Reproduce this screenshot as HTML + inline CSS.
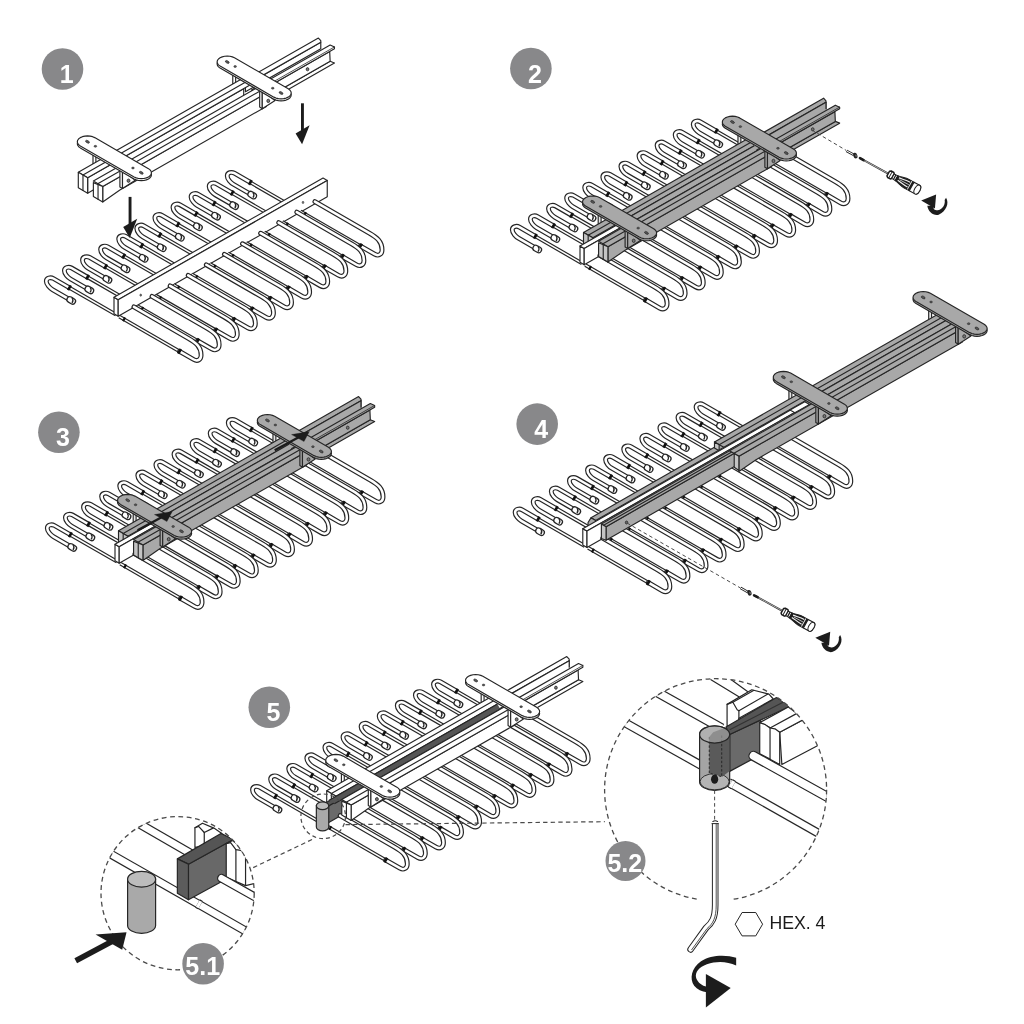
<!DOCTYPE html>
<html><head><meta charset="utf-8"><title>Assembly</title>
<style>
html,body{margin:0;padding:0;background:#fff;}
body{width:1024px;height:1024px;overflow:hidden;font-family:"Liberation Sans",sans-serif;}
svg{display:block;filter:blur(0.4px);}
text{font-family:"Liberation Sans",sans-serif;}
</style></head><body>
<svg width="1024" height="1024" viewBox="0 0 1024 1024">
<rect width="1024" height="1024" fill="#fff"/>
<defs><g id="rb"><path d="M297.03,209.4 L250.35,182.45" fill="none" stroke="#262626" stroke-width="3.85" stroke-linecap="butt" stroke-linejoin="round"/><path d="M297.03,209.4 L250.35,182.45" fill="none" stroke="#fff" stroke-width="1.5" stroke-linecap="butt" stroke-linejoin="round"/><path d="M250.35,182.45 L234.33,173.2 C231.56,171.6 227.25,172.5 227.25,175.9 C227.25,179.1 230.78,182.75 233.38,184.25 L249.4,193.5" fill="none" stroke="#262626" stroke-width="4.85" stroke-linecap="butt" stroke-linejoin="round"/><path d="M250.35,182.45 L234.33,173.2 C231.56,171.6 227.25,172.5 227.25,175.9 C227.25,179.1 230.78,182.75 233.38,184.25 L249.4,193.5" fill="none" stroke="#fff" stroke-width="2.5" stroke-linecap="butt" stroke-linejoin="round"/><path d="M249.18,181.77 L251.52,183.12" stroke="#111" stroke-width="5.35" fill="none"/><path d="M250.79,194.3 L253.56,195.9" fill="none" stroke="#262626" stroke-width="7.1" stroke-linecap="round" stroke-linejoin="round"/><path d="M250.79,194.3 L253.56,195.9" fill="none" stroke="#fff" stroke-width="4.6" stroke-linecap="round" stroke-linejoin="round"/><path d="M252.9,192.3 q2.0,2.4 0.1,5.4" fill="none" stroke="#262626" stroke-width="1.3"/><path d="M278.94,219.93 L232.26,192.98" fill="none" stroke="#262626" stroke-width="3.85" stroke-linecap="butt" stroke-linejoin="round"/><path d="M278.94,219.93 L232.26,192.98" fill="none" stroke="#fff" stroke-width="1.5" stroke-linecap="butt" stroke-linejoin="round"/><path d="M232.26,192.98 L216.24,183.73 C213.47,182.13 209.16,183.03 209.16,186.43 C209.16,189.63 212.69,193.28 215.28,194.78 L231.31,204.03" fill="none" stroke="#262626" stroke-width="4.85" stroke-linecap="butt" stroke-linejoin="round"/><path d="M232.26,192.98 L216.24,183.73 C213.47,182.13 209.16,183.03 209.16,186.43 C209.16,189.63 212.69,193.28 215.28,194.78 L231.31,204.03" fill="none" stroke="#fff" stroke-width="2.5" stroke-linecap="butt" stroke-linejoin="round"/><path d="M231.09,192.31 L233.43,193.66" stroke="#111" stroke-width="5.35" fill="none"/><path d="M232.69,204.83 L235.46,206.43" fill="none" stroke="#262626" stroke-width="7.1" stroke-linecap="round" stroke-linejoin="round"/><path d="M232.69,204.83 L235.46,206.43" fill="none" stroke="#fff" stroke-width="4.6" stroke-linecap="round" stroke-linejoin="round"/><path d="M234.8,202.83 q2.0,2.4 0.1,5.4" fill="none" stroke="#262626" stroke-width="1.3"/><path d="M260.84,230.46 L214.16,203.51" fill="none" stroke="#262626" stroke-width="3.85" stroke-linecap="butt" stroke-linejoin="round"/><path d="M260.84,230.46 L214.16,203.51" fill="none" stroke="#fff" stroke-width="1.5" stroke-linecap="butt" stroke-linejoin="round"/><path d="M214.16,203.51 L198.14,194.26 C195.37,192.66 191.06,193.56 191.06,196.96 C191.06,200.16 194.59,203.81 197.19,205.31 L213.21,214.56" fill="none" stroke="#262626" stroke-width="4.85" stroke-linecap="butt" stroke-linejoin="round"/><path d="M214.16,203.51 L198.14,194.26 C195.37,192.66 191.06,193.56 191.06,196.96 C191.06,200.16 194.59,203.81 197.19,205.31 L213.21,214.56" fill="none" stroke="#fff" stroke-width="2.5" stroke-linecap="butt" stroke-linejoin="round"/><path d="M212.99,202.83 L215.33,204.19" stroke="#111" stroke-width="5.35" fill="none"/><path d="M214.6,215.36 L217.37,216.96" fill="none" stroke="#262626" stroke-width="7.1" stroke-linecap="round" stroke-linejoin="round"/><path d="M214.6,215.36 L217.37,216.96" fill="none" stroke="#fff" stroke-width="4.6" stroke-linecap="round" stroke-linejoin="round"/><path d="M216.71,213.36 q2.0,2.4 0.1,5.4" fill="none" stroke="#262626" stroke-width="1.3"/><path d="M242.75,240.99 L196.07,214.04" fill="none" stroke="#262626" stroke-width="3.85" stroke-linecap="butt" stroke-linejoin="round"/><path d="M242.75,240.99 L196.07,214.04" fill="none" stroke="#fff" stroke-width="1.5" stroke-linecap="butt" stroke-linejoin="round"/><path d="M196.07,214.04 L180.05,204.79 C177.28,203.19 172.97,204.09 172.97,207.49 C172.97,210.69 176.5,214.34 179.09,215.84 L195.12,225.09" fill="none" stroke="#262626" stroke-width="4.85" stroke-linecap="butt" stroke-linejoin="round"/><path d="M196.07,214.04 L180.05,204.79 C177.28,203.19 172.97,204.09 172.97,207.49 C172.97,210.69 176.5,214.34 179.09,215.84 L195.12,225.09" fill="none" stroke="#fff" stroke-width="2.5" stroke-linecap="butt" stroke-linejoin="round"/><path d="M194.9,213.37 L197.24,214.72" stroke="#111" stroke-width="5.35" fill="none"/><path d="M196.5,225.89 L199.27,227.49" fill="none" stroke="#262626" stroke-width="7.1" stroke-linecap="round" stroke-linejoin="round"/><path d="M196.5,225.89 L199.27,227.49" fill="none" stroke="#fff" stroke-width="4.6" stroke-linecap="round" stroke-linejoin="round"/><path d="M198.61,223.89 q2.0,2.4 0.1,5.4" fill="none" stroke="#262626" stroke-width="1.3"/><path d="M224.65,251.52 L177.97,224.57" fill="none" stroke="#262626" stroke-width="3.85" stroke-linecap="butt" stroke-linejoin="round"/><path d="M224.65,251.52 L177.97,224.57" fill="none" stroke="#fff" stroke-width="1.5" stroke-linecap="butt" stroke-linejoin="round"/><path d="M177.97,224.57 L161.95,215.32 C159.18,213.72 154.87,214.62 154.87,218.02 C154.87,221.22 158.4,224.87 161,226.37 L177.02,235.62" fill="none" stroke="#262626" stroke-width="4.85" stroke-linecap="butt" stroke-linejoin="round"/><path d="M177.97,224.57 L161.95,215.32 C159.18,213.72 154.87,214.62 154.87,218.02 C154.87,221.22 158.4,224.87 161,226.37 L177.02,235.62" fill="none" stroke="#fff" stroke-width="2.5" stroke-linecap="butt" stroke-linejoin="round"/><path d="M176.8,223.9 L179.14,225.25" stroke="#111" stroke-width="5.35" fill="none"/><path d="M178.41,236.42 L181.18,238.02" fill="none" stroke="#262626" stroke-width="7.1" stroke-linecap="round" stroke-linejoin="round"/><path d="M178.41,236.42 L181.18,238.02" fill="none" stroke="#fff" stroke-width="4.6" stroke-linecap="round" stroke-linejoin="round"/><path d="M180.52,234.42 q2.0,2.4 0.1,5.4" fill="none" stroke="#262626" stroke-width="1.3"/><path d="M206.56,262.05 L159.88,235.1" fill="none" stroke="#262626" stroke-width="3.85" stroke-linecap="butt" stroke-linejoin="round"/><path d="M206.56,262.05 L159.88,235.1" fill="none" stroke="#fff" stroke-width="1.5" stroke-linecap="butt" stroke-linejoin="round"/><path d="M159.88,235.1 L143.86,225.85 C141.09,224.25 136.78,225.15 136.78,228.55 C136.78,231.75 140.31,235.4 142.9,236.9 L158.93,246.15" fill="none" stroke="#262626" stroke-width="4.85" stroke-linecap="butt" stroke-linejoin="round"/><path d="M159.88,235.1 L143.86,225.85 C141.09,224.25 136.78,225.15 136.78,228.55 C136.78,231.75 140.31,235.4 142.9,236.9 L158.93,246.15" fill="none" stroke="#fff" stroke-width="2.5" stroke-linecap="butt" stroke-linejoin="round"/><path d="M158.71,234.43 L161.05,235.78" stroke="#111" stroke-width="5.35" fill="none"/><path d="M160.31,246.95 L163.08,248.55" fill="none" stroke="#262626" stroke-width="7.1" stroke-linecap="round" stroke-linejoin="round"/><path d="M160.31,246.95 L163.08,248.55" fill="none" stroke="#fff" stroke-width="4.6" stroke-linecap="round" stroke-linejoin="round"/><path d="M162.42,244.95 q2.0,2.4 0.1,5.4" fill="none" stroke="#262626" stroke-width="1.3"/><path d="M188.46,272.58 L141.78,245.63" fill="none" stroke="#262626" stroke-width="3.85" stroke-linecap="butt" stroke-linejoin="round"/><path d="M188.46,272.58 L141.78,245.63" fill="none" stroke="#fff" stroke-width="1.5" stroke-linecap="butt" stroke-linejoin="round"/><path d="M141.78,245.63 L125.76,236.38 C122.99,234.78 118.68,235.68 118.68,239.08 C118.68,242.28 122.21,245.93 124.81,247.43 L140.83,256.68" fill="none" stroke="#262626" stroke-width="4.85" stroke-linecap="butt" stroke-linejoin="round"/><path d="M141.78,245.63 L125.76,236.38 C122.99,234.78 118.68,235.68 118.68,239.08 C118.68,242.28 122.21,245.93 124.81,247.43 L140.83,256.68" fill="none" stroke="#fff" stroke-width="2.5" stroke-linecap="butt" stroke-linejoin="round"/><path d="M140.61,244.96 L142.95,246.31" stroke="#111" stroke-width="5.35" fill="none"/><path d="M142.22,257.48 L144.99,259.08" fill="none" stroke="#262626" stroke-width="7.1" stroke-linecap="round" stroke-linejoin="round"/><path d="M142.22,257.48 L144.99,259.08" fill="none" stroke="#fff" stroke-width="4.6" stroke-linecap="round" stroke-linejoin="round"/><path d="M144.33,255.48 q2.0,2.4 0.1,5.4" fill="none" stroke="#262626" stroke-width="1.3"/><path d="M170.37,283.11 L123.69,256.16" fill="none" stroke="#262626" stroke-width="3.85" stroke-linecap="butt" stroke-linejoin="round"/><path d="M170.37,283.11 L123.69,256.16" fill="none" stroke="#fff" stroke-width="1.5" stroke-linecap="butt" stroke-linejoin="round"/><path d="M123.69,256.16 L107.67,246.91 C104.9,245.31 100.59,246.21 100.59,249.61 C100.59,252.81 104.12,256.46 106.71,257.96 L122.73,267.21" fill="none" stroke="#262626" stroke-width="4.85" stroke-linecap="butt" stroke-linejoin="round"/><path d="M123.69,256.16 L107.67,246.91 C104.9,245.31 100.59,246.21 100.59,249.61 C100.59,252.81 104.12,256.46 106.71,257.96 L122.73,267.21" fill="none" stroke="#fff" stroke-width="2.5" stroke-linecap="butt" stroke-linejoin="round"/><path d="M122.52,255.49 L124.86,256.84" stroke="#111" stroke-width="5.35" fill="none"/><path d="M124.12,268.01 L126.89,269.61" fill="none" stroke="#262626" stroke-width="7.1" stroke-linecap="round" stroke-linejoin="round"/><path d="M124.12,268.01 L126.89,269.61" fill="none" stroke="#fff" stroke-width="4.6" stroke-linecap="round" stroke-linejoin="round"/><path d="M126.23,266.01 q2.0,2.4 0.1,5.4" fill="none" stroke="#262626" stroke-width="1.3"/><path d="M152.27,293.64 L105.59,266.69" fill="none" stroke="#262626" stroke-width="3.85" stroke-linecap="butt" stroke-linejoin="round"/><path d="M152.27,293.64 L105.59,266.69" fill="none" stroke="#fff" stroke-width="1.5" stroke-linecap="butt" stroke-linejoin="round"/><path d="M105.59,266.69 L89.57,257.44 C86.8,255.84 82.49,256.74 82.49,260.14 C82.49,263.34 86.02,266.99 88.62,268.49 L104.64,277.74" fill="none" stroke="#262626" stroke-width="4.85" stroke-linecap="butt" stroke-linejoin="round"/><path d="M105.59,266.69 L89.57,257.44 C86.8,255.84 82.49,256.74 82.49,260.14 C82.49,263.34 86.02,266.99 88.62,268.49 L104.64,277.74" fill="none" stroke="#fff" stroke-width="2.5" stroke-linecap="butt" stroke-linejoin="round"/><path d="M104.42,266.02 L106.76,267.37" stroke="#111" stroke-width="5.35" fill="none"/><path d="M106.03,278.54 L108.8,280.14" fill="none" stroke="#262626" stroke-width="7.1" stroke-linecap="round" stroke-linejoin="round"/><path d="M106.03,278.54 L108.8,280.14" fill="none" stroke="#fff" stroke-width="4.6" stroke-linecap="round" stroke-linejoin="round"/><path d="M108.14,276.54 q2.0,2.4 0.1,5.4" fill="none" stroke="#262626" stroke-width="1.3"/><path d="M134.18,304.17 L87.5,277.22" fill="none" stroke="#262626" stroke-width="3.85" stroke-linecap="butt" stroke-linejoin="round"/><path d="M134.18,304.17 L87.5,277.22" fill="none" stroke="#fff" stroke-width="1.5" stroke-linecap="butt" stroke-linejoin="round"/><path d="M87.5,277.22 L71.48,267.97 C68.71,266.37 64.4,267.27 64.4,270.67 C64.4,273.87 67.93,277.52 70.52,279.02 L86.55,288.27" fill="none" stroke="#262626" stroke-width="4.85" stroke-linecap="butt" stroke-linejoin="round"/><path d="M87.5,277.22 L71.48,267.97 C68.71,266.37 64.4,267.27 64.4,270.67 C64.4,273.87 67.93,277.52 70.52,279.02 L86.55,288.27" fill="none" stroke="#fff" stroke-width="2.5" stroke-linecap="butt" stroke-linejoin="round"/><path d="M86.33,276.55 L88.67,277.9" stroke="#111" stroke-width="5.35" fill="none"/><path d="M87.93,289.07 L90.7,290.67" fill="none" stroke="#262626" stroke-width="7.1" stroke-linecap="round" stroke-linejoin="round"/><path d="M87.93,289.07 L90.7,290.67" fill="none" stroke="#fff" stroke-width="4.6" stroke-linecap="round" stroke-linejoin="round"/><path d="M90.04,287.07 q2.0,2.4 0.1,5.4" fill="none" stroke="#262626" stroke-width="1.3"/><path d="M116.08,314.7 L69.4,287.75" fill="none" stroke="#262626" stroke-width="3.85" stroke-linecap="butt" stroke-linejoin="round"/><path d="M116.08,314.7 L69.4,287.75" fill="none" stroke="#fff" stroke-width="1.5" stroke-linecap="butt" stroke-linejoin="round"/><path d="M69.4,287.75 L53.38,278.5 C50.61,276.9 46.3,277.8 46.3,281.2 C46.3,284.4 49.83,288.05 52.43,289.55 L68.45,298.8" fill="none" stroke="#262626" stroke-width="4.85" stroke-linecap="butt" stroke-linejoin="round"/><path d="M69.4,287.75 L53.38,278.5 C50.61,276.9 46.3,277.8 46.3,281.2 C46.3,284.4 49.83,288.05 52.43,289.55 L68.45,298.8" fill="none" stroke="#fff" stroke-width="2.5" stroke-linecap="butt" stroke-linejoin="round"/><path d="M68.23,287.08 L70.57,288.43" stroke="#111" stroke-width="5.35" fill="none"/><path d="M69.84,299.6 L72.61,301.2" fill="none" stroke="#262626" stroke-width="7.1" stroke-linecap="round" stroke-linejoin="round"/><path d="M69.84,299.6 L72.61,301.2" fill="none" stroke="#fff" stroke-width="4.6" stroke-linecap="round" stroke-linejoin="round"/><path d="M71.95,297.6 q2.0,2.4 0.1,5.4" fill="none" stroke="#262626" stroke-width="1.3"/></g>
<g id="rf"><path d="M300.32,211.3 L360.51,246.05" fill="none" stroke="#262626" stroke-width="3.85" stroke-linecap="butt" stroke-linejoin="round"/><path d="M300.32,211.3 L360.51,246.05" fill="none" stroke="#fff" stroke-width="1.5" stroke-linecap="butt" stroke-linejoin="round"/><path d="M304.04,213.45 L305.95,214.55" stroke="#111" stroke-width="4.15" fill="none"/><path d="M314.87,201.6 L369.34,233.05 C376.7,237.3 382.05,241.4 382.05,249.9 C382.05,254.2 378.61,256.5 374.62,254.2 L360.51,246.05" fill="none" stroke="#262626" stroke-width="4.85" stroke-linecap="round" stroke-linejoin="round"/><path d="M314.87,201.6 L369.34,233.05 C376.7,237.3 382.05,241.4 382.05,249.9 C382.05,254.2 378.61,256.5 374.62,254.2 L360.51,246.05" fill="none" stroke="#fff" stroke-width="2.5" stroke-linecap="round" stroke-linejoin="round"/><path d="M359.34,245.38 L361.68,246.73" stroke="#111" stroke-width="5.35" fill="none"/><path d="M282.23,221.83 L342.41,256.58" fill="none" stroke="#262626" stroke-width="3.85" stroke-linecap="butt" stroke-linejoin="round"/><path d="M282.23,221.83 L342.41,256.58" fill="none" stroke="#fff" stroke-width="1.5" stroke-linecap="butt" stroke-linejoin="round"/><path d="M285.95,223.98 L287.85,225.08" stroke="#111" stroke-width="4.15" fill="none"/><path d="M296.77,212.13 L351.25,243.58 C358.61,247.83 363.95,251.93 363.95,260.43 C363.95,264.73 360.51,267.03 356.53,264.73 L342.41,256.58" fill="none" stroke="#262626" stroke-width="4.85" stroke-linecap="round" stroke-linejoin="round"/><path d="M296.77,212.13 L351.25,243.58 C358.61,247.83 363.95,251.93 363.95,260.43 C363.95,264.73 360.51,267.03 356.53,264.73 L342.41,256.58" fill="none" stroke="#fff" stroke-width="2.5" stroke-linecap="round" stroke-linejoin="round"/><path d="M341.24,255.9 L343.58,257.25" stroke="#111" stroke-width="5.35" fill="none"/><path d="M264.13,232.36 L324.32,267.11" fill="none" stroke="#262626" stroke-width="3.85" stroke-linecap="butt" stroke-linejoin="round"/><path d="M264.13,232.36 L324.32,267.11" fill="none" stroke="#fff" stroke-width="1.5" stroke-linecap="butt" stroke-linejoin="round"/><path d="M267.85,234.51 L269.76,235.61" stroke="#111" stroke-width="4.15" fill="none"/><path d="M278.68,222.66 L333.15,254.11 C340.51,258.36 345.86,262.46 345.86,270.96 C345.86,275.26 342.42,277.56 338.43,275.26 L324.32,267.11" fill="none" stroke="#262626" stroke-width="4.85" stroke-linecap="round" stroke-linejoin="round"/><path d="M278.68,222.66 L333.15,254.11 C340.51,258.36 345.86,262.46 345.86,270.96 C345.86,275.26 342.42,277.56 338.43,275.26 L324.32,267.11" fill="none" stroke="#fff" stroke-width="2.5" stroke-linecap="round" stroke-linejoin="round"/><path d="M323.15,266.44 L325.49,267.79" stroke="#111" stroke-width="5.35" fill="none"/><path d="M246.04,242.89 L306.22,277.64" fill="none" stroke="#262626" stroke-width="3.85" stroke-linecap="butt" stroke-linejoin="round"/><path d="M246.04,242.89 L306.22,277.64" fill="none" stroke="#fff" stroke-width="1.5" stroke-linecap="butt" stroke-linejoin="round"/><path d="M249.76,245.04 L251.66,246.14" stroke="#111" stroke-width="4.15" fill="none"/><path d="M260.58,233.19 L315.06,264.64 C322.42,268.89 327.76,272.99 327.76,281.49 C327.76,285.79 324.32,288.09 320.34,285.79 L306.22,277.64" fill="none" stroke="#262626" stroke-width="4.85" stroke-linecap="round" stroke-linejoin="round"/><path d="M260.58,233.19 L315.06,264.64 C322.42,268.89 327.76,272.99 327.76,281.49 C327.76,285.79 324.32,288.09 320.34,285.79 L306.22,277.64" fill="none" stroke="#fff" stroke-width="2.5" stroke-linecap="round" stroke-linejoin="round"/><path d="M305.05,276.96 L307.39,278.31" stroke="#111" stroke-width="5.35" fill="none"/><path d="M227.94,253.42 L288.13,288.17" fill="none" stroke="#262626" stroke-width="3.85" stroke-linecap="butt" stroke-linejoin="round"/><path d="M227.94,253.42 L288.13,288.17" fill="none" stroke="#fff" stroke-width="1.5" stroke-linecap="butt" stroke-linejoin="round"/><path d="M231.66,255.57 L233.57,256.67" stroke="#111" stroke-width="4.15" fill="none"/><path d="M242.49,243.72 L296.96,275.17 C304.32,279.42 309.67,283.52 309.67,292.02 C309.67,296.32 306.23,298.62 302.24,296.32 L288.13,288.17" fill="none" stroke="#262626" stroke-width="4.85" stroke-linecap="round" stroke-linejoin="round"/><path d="M242.49,243.72 L296.96,275.17 C304.32,279.42 309.67,283.52 309.67,292.02 C309.67,296.32 306.23,298.62 302.24,296.32 L288.13,288.17" fill="none" stroke="#fff" stroke-width="2.5" stroke-linecap="round" stroke-linejoin="round"/><path d="M286.96,287.5 L289.3,288.85" stroke="#111" stroke-width="5.35" fill="none"/><path d="M209.85,263.95 L270.03,298.7" fill="none" stroke="#262626" stroke-width="3.85" stroke-linecap="butt" stroke-linejoin="round"/><path d="M209.85,263.95 L270.03,298.7" fill="none" stroke="#fff" stroke-width="1.5" stroke-linecap="butt" stroke-linejoin="round"/><path d="M213.57,266.1 L215.47,267.2" stroke="#111" stroke-width="4.15" fill="none"/><path d="M224.39,254.25 L278.87,285.7 C286.23,289.95 291.57,294.05 291.57,302.55 C291.57,306.85 288.13,309.15 284.15,306.85 L270.03,298.7" fill="none" stroke="#262626" stroke-width="4.85" stroke-linecap="round" stroke-linejoin="round"/><path d="M224.39,254.25 L278.87,285.7 C286.23,289.95 291.57,294.05 291.57,302.55 C291.57,306.85 288.13,309.15 284.15,306.85 L270.03,298.7" fill="none" stroke="#fff" stroke-width="2.5" stroke-linecap="round" stroke-linejoin="round"/><path d="M268.86,298.02 L271.2,299.38" stroke="#111" stroke-width="5.35" fill="none"/><path d="M191.75,274.48 L251.94,309.23" fill="none" stroke="#262626" stroke-width="3.85" stroke-linecap="butt" stroke-linejoin="round"/><path d="M191.75,274.48 L251.94,309.23" fill="none" stroke="#fff" stroke-width="1.5" stroke-linecap="butt" stroke-linejoin="round"/><path d="M195.47,276.63 L197.38,277.73" stroke="#111" stroke-width="4.15" fill="none"/><path d="M206.3,264.78 L260.77,296.23 C268.13,300.48 273.48,304.58 273.48,313.08 C273.48,317.38 270.04,319.68 266.05,317.38 L251.94,309.23" fill="none" stroke="#262626" stroke-width="4.85" stroke-linecap="round" stroke-linejoin="round"/><path d="M206.3,264.78 L260.77,296.23 C268.13,300.48 273.48,304.58 273.48,313.08 C273.48,317.38 270.04,319.68 266.05,317.38 L251.94,309.23" fill="none" stroke="#fff" stroke-width="2.5" stroke-linecap="round" stroke-linejoin="round"/><path d="M250.77,308.56 L253.11,309.91" stroke="#111" stroke-width="5.35" fill="none"/><path d="M173.66,285.01 L233.84,319.76" fill="none" stroke="#262626" stroke-width="3.85" stroke-linecap="butt" stroke-linejoin="round"/><path d="M173.66,285.01 L233.84,319.76" fill="none" stroke="#fff" stroke-width="1.5" stroke-linecap="butt" stroke-linejoin="round"/><path d="M177.38,287.16 L179.28,288.26" stroke="#111" stroke-width="4.15" fill="none"/><path d="M188.2,275.31 L242.68,306.76 C250.04,311.01 255.38,315.11 255.38,323.61 C255.38,327.91 251.94,330.21 247.96,327.91 L233.84,319.76" fill="none" stroke="#262626" stroke-width="4.85" stroke-linecap="round" stroke-linejoin="round"/><path d="M188.2,275.31 L242.68,306.76 C250.04,311.01 255.38,315.11 255.38,323.61 C255.38,327.91 251.94,330.21 247.96,327.91 L233.84,319.76" fill="none" stroke="#fff" stroke-width="2.5" stroke-linecap="round" stroke-linejoin="round"/><path d="M232.67,319.08 L235.01,320.44" stroke="#111" stroke-width="5.35" fill="none"/><path d="M155.56,295.54 L215.75,330.29" fill="none" stroke="#262626" stroke-width="3.85" stroke-linecap="butt" stroke-linejoin="round"/><path d="M155.56,295.54 L215.75,330.29" fill="none" stroke="#fff" stroke-width="1.5" stroke-linecap="butt" stroke-linejoin="round"/><path d="M159.28,297.69 L161.19,298.79" stroke="#111" stroke-width="4.15" fill="none"/><path d="M170.11,285.84 L224.58,317.29 C231.94,321.54 237.29,325.64 237.29,334.14 C237.29,338.44 233.85,340.74 229.86,338.44 L215.75,330.29" fill="none" stroke="#262626" stroke-width="4.85" stroke-linecap="round" stroke-linejoin="round"/><path d="M170.11,285.84 L224.58,317.29 C231.94,321.54 237.29,325.64 237.29,334.14 C237.29,338.44 233.85,340.74 229.86,338.44 L215.75,330.29" fill="none" stroke="#fff" stroke-width="2.5" stroke-linecap="round" stroke-linejoin="round"/><path d="M214.58,329.62 L216.92,330.97" stroke="#111" stroke-width="5.35" fill="none"/><path d="M137.47,306.07 L197.65,340.82" fill="none" stroke="#262626" stroke-width="3.85" stroke-linecap="butt" stroke-linejoin="round"/><path d="M137.47,306.07 L197.65,340.82" fill="none" stroke="#fff" stroke-width="1.5" stroke-linecap="butt" stroke-linejoin="round"/><path d="M141.19,308.22 L143.09,309.32" stroke="#111" stroke-width="4.15" fill="none"/><path d="M152.01,296.37 L206.49,327.82 C213.85,332.07 219.19,336.17 219.19,344.67 C219.19,348.97 215.75,351.27 211.77,348.97 L197.65,340.82" fill="none" stroke="#262626" stroke-width="4.85" stroke-linecap="round" stroke-linejoin="round"/><path d="M152.01,296.37 L206.49,327.82 C213.85,332.07 219.19,336.17 219.19,344.67 C219.19,348.97 215.75,351.27 211.77,348.97 L197.65,340.82" fill="none" stroke="#fff" stroke-width="2.5" stroke-linecap="round" stroke-linejoin="round"/><path d="M196.48,340.15 L198.82,341.5" stroke="#111" stroke-width="5.35" fill="none"/><path d="M119.37,316.6 L179.56,351.35" fill="none" stroke="#262626" stroke-width="3.85" stroke-linecap="butt" stroke-linejoin="round"/><path d="M119.37,316.6 L179.56,351.35" fill="none" stroke="#fff" stroke-width="1.5" stroke-linecap="butt" stroke-linejoin="round"/><path d="M123.09,318.75 L125,319.85" stroke="#111" stroke-width="4.15" fill="none"/><path d="M133.92,306.9 L188.39,338.35 C195.75,342.6 201.1,346.7 201.1,355.2 C201.1,359.5 197.66,361.8 193.67,359.5 L179.56,351.35" fill="none" stroke="#262626" stroke-width="4.85" stroke-linecap="round" stroke-linejoin="round"/><path d="M133.92,306.9 L188.39,338.35 C195.75,342.6 201.1,346.7 201.1,355.2 C201.1,359.5 197.66,361.8 193.67,359.5 L179.56,351.35" fill="none" stroke="#fff" stroke-width="2.5" stroke-linecap="round" stroke-linejoin="round"/><path d="M178.39,350.68 L180.73,352.03" stroke="#111" stroke-width="5.35" fill="none"/></g>
<g id="bar"><path d="M118.2,316.2 L118.2,299.8 L114,297.35 L114,313.75 Z" fill="#fff" stroke="#262626" stroke-width="1.15" stroke-linejoin="round" /><path d="M118.2,299.8 L114,297.35 L323.05,177.98 L327.25,180.43 Z" fill="#fff" stroke="#262626" stroke-width="1.15" stroke-linejoin="round" /><path d="M118.2,316.2 L118.2,299.8 L327.25,180.43 L327.25,196.83 Z" fill="#fff" stroke="#262626" stroke-width="1.15" stroke-linejoin="round" /><ellipse cx="140.72" cy="295.14" rx="0.9" ry="1.1" fill="#777" stroke="#262626" stroke-width="0.5"/><ellipse cx="303" cy="202.47" rx="0.9" ry="1.1" fill="#777" stroke="#262626" stroke-width="0.5"/></g>
<g id="bard"><path d="M118.2,316.2 L118.2,299.8 L114,297.35 L114,313.75 Z" fill="#6a6a6a" stroke="#262626" stroke-width="1.15" stroke-linejoin="round" /><path d="M118.2,299.8 L114,297.35 L323.05,177.98 L327.25,180.43 Z" fill="#555" stroke="#262626" stroke-width="1.15" stroke-linejoin="round" /><path d="M118.2,316.2 L118.2,299.8 L327.25,180.43 L327.25,196.83 Z" fill="#6a6a6a" stroke="#262626" stroke-width="1.15" stroke-linejoin="round" /><ellipse cx="140.72" cy="295.14" rx="0.9" ry="1.1" fill="#777" stroke="#262626" stroke-width="0.5"/><ellipse cx="303" cy="202.47" rx="0.9" ry="1.1" fill="#777" stroke="#262626" stroke-width="0.5"/></g>
</defs>
<use href="#rb" x="0" y="0" /><use href="#bar" x="0" y="0" /><use href="#rf" x="0" y="0" />
<path d="M93,154.2 L95.9,155.4 L95.9,164.7 L93,163.7 Z" fill="#fff" stroke="#262626" stroke-width="1.15" stroke-linejoin="round" /><path d="M232.77,74.39 L235.67,75.59 L235.67,84.89 L232.77,83.89 Z" fill="#fff" stroke="#262626" stroke-width="1.15" stroke-linejoin="round" /><path d="M245.44,85.21 L320.78,42.19 L320.78,48.69 L245.44,91.71 Z" fill="#fff" stroke="#262626" stroke-width="1.15" stroke-linejoin="round" /><path d="M241.11,82.18 L318.4,38.05 L320.78,40.74 L320.78,42.19 L245.44,85.21 Z" fill="#fff" stroke="#262626" stroke-width="1.15" stroke-linejoin="round" /><path d="M87.65,177.76 L243.71,88.65 L243.71,101.95 L87.65,193.16 Z" fill="#fff" stroke="#262626" stroke-width="1.15" stroke-linejoin="round" /><path d="M78.3,172.3 L241.97,78.84 L251.33,84.3 L87.65,177.76 Z" fill="#fff" stroke="#262626" stroke-width="1.15" stroke-linejoin="round" /><path d="M82.98,175.03 L246.65,81.57" fill="none" stroke="#262626" stroke-width="1.15" stroke-linecap="round" stroke-linejoin="round" /><path d="M78.3,172.3 L87.65,177.76 L87.65,193.16 L78.3,187.7 Z" fill="#fff" stroke="#262626" stroke-width="1.15" stroke-linejoin="round" /><path d="M82.98,175.03 L82.98,190.43" fill="none" stroke="#262626" stroke-width="1.15" stroke-linecap="round" stroke-linejoin="round" /><path d="M255.83,103.73 L330.13,61.3 L334.46,63.03 L260.16,105.46 Z" fill="#fff" stroke="#262626" stroke-width="1.15" stroke-linejoin="round" /><path d="M255.83,93.73 L329.7,51.55 L330.13,61.3 L255.83,103.73 Z" fill="#fff" stroke="#262626" stroke-width="1.15" stroke-linejoin="round" /><path d="M251.5,89.95 L330.13,45.05 L334.46,47.08 L334.46,48.63 L255.83,93.73 Z" fill="#fff" stroke="#262626" stroke-width="1.15" stroke-linejoin="round" /><path d="M254.96,92.32 L334.46,46.93" fill="none" stroke="#262626" stroke-width="0.8" stroke-linecap="round" stroke-linejoin="round" /><ellipse cx="307.53" cy="69.21" rx="1.35" ry="1.6" fill="#777" stroke="#262626" stroke-width="0.8"/><path d="M102.72,186.56 L266.4,93.09 L266.4,106.39 L119.87,190.06 L102.72,201.96 Z" fill="#fff" stroke="#262626" stroke-width="1.15" stroke-linejoin="round" /><path d="M93.37,181.1 L257.04,87.64 L266.4,93.09 L102.72,186.56 Z" fill="#fff" stroke="#262626" stroke-width="1.15" stroke-linejoin="round" /><path d="M97.78,183.67 L261.46,90.21" fill="none" stroke="#262626" stroke-width="1.15" stroke-linecap="round" stroke-linejoin="round" /><path d="M93.37,182.6 L102.72,186.56 L102.72,201.96 L93.37,196.5 Z" fill="#fff" stroke="#262626" stroke-width="1.15" stroke-linejoin="round" /><path d="M98.04,184.53 L98.04,199.23" fill="none" stroke="#262626" stroke-width="1.15" stroke-linecap="round" stroke-linejoin="round" /><path d="M119.9,169.1 L122.5,170.8 L122.5,188.5 L119.9,186.9 Z" fill="#fff" stroke="#262626" stroke-width="1.15" stroke-linejoin="round" /><path d="M122.5,170.8 L135.3,180.3 L122.5,188.5 Z" fill="#fff" stroke="#262626" stroke-width="1.15" stroke-linejoin="round" /><ellipse cx="128.5" cy="180.7" rx="1.45" ry="1.7" fill="#777" stroke="#262626" stroke-width="0.8"/><path d="M94.69,139.6 L92.58,138.67 L90.13,138.08 L87.5,137.88 L84.87,138.08 L82.42,138.67 L80.31,139.6 L78.7,140.82 L77.68,142.23 L77.33,143.75 L77.68,145.27 L78.7,146.68 L80.31,147.9 L134.09,178.95 L136.2,179.88 L138.65,180.47 L141.28,180.67 L143.91,180.47 L146.36,179.88 L148.47,178.95 L150.08,177.73 L151.1,176.32 L151.44,174.8 L151.1,173.28 L150.08,171.87 L148.47,170.65 Z" fill="#fff" stroke="#262626" stroke-width="1.15" stroke-linejoin="round" /><path d="M94.69,137.6 L92.58,136.67 L90.13,136.08 L87.5,135.88 L84.87,136.08 L82.42,136.67 L80.31,137.6 L78.7,138.82 L77.68,140.23 L77.33,141.75 L77.68,143.27 L78.7,144.68 L80.31,145.9 L134.09,176.95 L136.2,177.88 L138.65,178.47 L141.28,178.67 L143.91,178.47 L146.36,177.88 L148.47,176.95 L150.08,175.73 L151.1,174.32 L151.44,172.8 L151.1,171.28 L150.08,169.87 L148.47,168.65 Z" fill="#fff" stroke="#262626" stroke-width="1.15" stroke-linejoin="round" /><ellipse cx="87.5" cy="141.75" rx="2.1" ry="1.15" transform="rotate(28 87.5 141.75)" fill="#555" stroke="#262626" stroke-width="0.6"/><ellipse cx="95.38" cy="146.3" rx="1.35" ry="0.95" fill="#555" stroke="#262626" stroke-width="0.5"/><ellipse cx="132.96" cy="168" rx="1.35" ry="0.95" fill="#555" stroke="#262626" stroke-width="0.5"/><ellipse cx="141.28" cy="172.8" rx="2.1" ry="1.15" transform="rotate(28 141.28 172.8)" fill="#555" stroke="#262626" stroke-width="0.6"/><path d="M259.67,89.29 L262.27,90.99 L262.27,108.69 L259.67,107.09 Z" fill="#fff" stroke="#262626" stroke-width="1.15" stroke-linejoin="round" /><path d="M262.27,90.99 L275.07,100.49 L262.27,108.69 Z" fill="#fff" stroke="#262626" stroke-width="1.15" stroke-linejoin="round" /><ellipse cx="268.27" cy="100.89" rx="1.45" ry="1.7" fill="#777" stroke="#262626" stroke-width="0.8"/><path d="M234.46,59.79 L232.35,58.86 L229.9,58.27 L227.27,58.07 L224.64,58.27 L222.19,58.86 L220.08,59.79 L218.47,61 L217.45,62.42 L217.11,63.94 L217.45,65.46 L218.47,66.87 L220.08,68.09 L273.86,99.14 L275.97,100.07 L278.42,100.66 L281.05,100.86 L283.68,100.66 L286.13,100.07 L288.24,99.14 L289.85,97.92 L290.87,96.51 L291.22,94.99 L290.87,93.47 L289.85,92.05 L288.24,90.84 Z" fill="#fff" stroke="#262626" stroke-width="1.15" stroke-linejoin="round" /><path d="M234.46,57.79 L232.35,56.86 L229.9,56.27 L227.27,56.07 L224.64,56.27 L222.19,56.86 L220.08,57.79 L218.47,59 L217.45,60.42 L217.11,61.94 L217.45,63.46 L218.47,64.87 L220.08,66.09 L273.86,97.14 L275.97,98.07 L278.42,98.66 L281.05,98.86 L283.68,98.66 L286.13,98.07 L288.24,97.14 L289.85,95.92 L290.87,94.51 L291.22,92.99 L290.87,91.47 L289.85,90.05 L288.24,88.84 Z" fill="#fff" stroke="#262626" stroke-width="1.15" stroke-linejoin="round" /><ellipse cx="227.27" cy="61.94" rx="2.1" ry="1.15" transform="rotate(28 227.27 61.94)" fill="#555" stroke="#262626" stroke-width="0.6"/><ellipse cx="235.15" cy="66.49" rx="1.35" ry="0.95" fill="#555" stroke="#262626" stroke-width="0.5"/><ellipse cx="272.74" cy="88.19" rx="1.35" ry="0.95" fill="#555" stroke="#262626" stroke-width="0.5"/><ellipse cx="281.05" cy="92.99" rx="2.1" ry="1.15" transform="rotate(28 281.05 92.99)" fill="#555" stroke="#262626" stroke-width="0.6"/>
<use href="#rb" x="466" y="-51.4" />
<path d="M598.2,214.3 L601.1,215.5 L601.1,224.8 L598.2,223.8 Z" fill="#e4e4e4" stroke="#262626" stroke-width="1.15" stroke-linejoin="round" /><path d="M737.97,134.49 L740.87,135.69 L740.87,144.99 L737.97,143.99 Z" fill="#e4e4e4" stroke="#262626" stroke-width="1.15" stroke-linejoin="round" /><path d="M750.64,145.31 L825.98,102.29 L825.98,108.79 L750.64,151.81 Z" fill="#a8a8a8" stroke="#262626" stroke-width="1.15" stroke-linejoin="round" /><path d="M746.31,142.28 L823.6,98.15 L825.98,100.84 L825.98,102.29 L750.64,145.31 Z" fill="#a8a8a8" stroke="#262626" stroke-width="1.15" stroke-linejoin="round" /><path d="M592.85,237.86 L748.91,148.75 L748.91,162.05 L592.85,253.26 Z" fill="#a8a8a8" stroke="#262626" stroke-width="1.15" stroke-linejoin="round" /><path d="M583.5,232.4 L747.17,138.94 L756.53,144.4 L592.85,237.86 Z" fill="#a8a8a8" stroke="#262626" stroke-width="1.15" stroke-linejoin="round" /><path d="M588.18,235.13 L751.85,141.67" fill="none" stroke="#262626" stroke-width="1.15" stroke-linecap="round" stroke-linejoin="round" /><path d="M583.5,232.4 L592.85,237.86 L592.85,253.26 L583.5,247.8 Z" fill="#c4c4c4" stroke="#262626" stroke-width="1.15" stroke-linejoin="round" /><path d="M588.18,235.13 L588.18,250.53" fill="none" stroke="#262626" stroke-width="1.15" stroke-linecap="round" stroke-linejoin="round" />
<use href="#bar" x="466" y="-51.4" /><use href="#rf" x="466" y="-51.4" />
<path d="M618.83,223.02 L756.53,144.4 L762.24,147.74 L624.55,226.36 Z" fill="#a8a8a8" stroke="none" stroke-width="0" stroke-linejoin="round" /><path d="M618.83,223.02 L756.53,144.4" fill="none" stroke="#262626" stroke-width="1.15" stroke-linecap="round" stroke-linejoin="round" /><path d="M624.55,226.36 L762.24,147.74" fill="none" stroke="#262626" stroke-width="1.15" stroke-linecap="round" stroke-linejoin="round" /><path d="M753.24,143.83 L825.98,102.29 L825.98,108.79 L827.71,109.5 L756.7,150.05 Z" fill="#a8a8a8" stroke="none" stroke-width="0" stroke-linejoin="round" /><path d="M753.24,143.83 L825.98,102.29 L825.98,108.79" fill="none" stroke="#262626" stroke-width="1.15" stroke-linecap="round" stroke-linejoin="round" /><path d="M761.03,163.83 L835.33,121.4 L839.66,123.13 L765.36,165.56 Z" fill="#a8a8a8" stroke="#262626" stroke-width="1.15" stroke-linejoin="round" /><path d="M761.03,153.83 L834.9,111.65 L835.33,121.4 L761.03,163.83 Z" fill="#a8a8a8" stroke="#262626" stroke-width="1.15" stroke-linejoin="round" /><path d="M756.7,150.05 L835.33,105.15 L839.66,107.18 L839.66,108.73 L761.03,153.83 Z" fill="#a8a8a8" stroke="#262626" stroke-width="1.15" stroke-linejoin="round" /><path d="M760.16,152.42 L839.66,107.03" fill="none" stroke="#262626" stroke-width="0.8" stroke-linecap="round" stroke-linejoin="round" /><ellipse cx="812.73" cy="129.31" rx="1.35" ry="1.6" fill="#777" stroke="#262626" stroke-width="0.8"/><path d="M607.92,246.66 L771.6,153.19 L771.6,166.49 L625.07,250.16 L607.92,262.06 Z" fill="#a8a8a8" stroke="#262626" stroke-width="1.15" stroke-linejoin="round" /><path d="M598.57,241.2 L762.24,147.74 L771.6,153.19 L607.92,246.66 Z" fill="#a8a8a8" stroke="#262626" stroke-width="1.15" stroke-linejoin="round" /><path d="M602.99,243.77 L766.66,150.31" fill="none" stroke="#262626" stroke-width="1.15" stroke-linecap="round" stroke-linejoin="round" /><path d="M598.57,242.7 L607.92,246.66 L607.92,262.06 L598.57,256.6 Z" fill="#c4c4c4" stroke="#262626" stroke-width="1.15" stroke-linejoin="round" /><path d="M603.24,244.63 L603.24,259.33" fill="none" stroke="#262626" stroke-width="1.15" stroke-linecap="round" stroke-linejoin="round" /><path d="M625.1,229.2 L627.7,230.9 L627.7,248.6 L625.1,247 Z" fill="#a8a8a8" stroke="#262626" stroke-width="1.15" stroke-linejoin="round" /><path d="M627.7,230.9 L640.5,240.4 L627.7,248.6 Z" fill="#a8a8a8" stroke="#262626" stroke-width="1.15" stroke-linejoin="round" /><ellipse cx="633.7" cy="240.8" rx="1.45" ry="1.7" fill="#777" stroke="#262626" stroke-width="0.8"/><path d="M599.89,199.7 L597.78,198.77 L595.33,198.18 L592.7,197.98 L590.07,198.18 L587.62,198.77 L585.51,199.7 L583.9,200.92 L582.88,202.33 L582.53,203.85 L582.88,205.37 L583.9,206.78 L585.51,208 L639.29,239.05 L641.4,239.98 L643.85,240.57 L646.48,240.77 L649.11,240.57 L651.56,239.98 L653.67,239.05 L655.28,237.83 L656.3,236.42 L656.64,234.9 L656.3,233.38 L655.28,231.97 L653.67,230.75 Z" fill="#a8a8a8" stroke="#262626" stroke-width="1.15" stroke-linejoin="round" /><path d="M599.89,197.7 L597.78,196.77 L595.33,196.18 L592.7,195.98 L590.07,196.18 L587.62,196.77 L585.51,197.7 L583.9,198.92 L582.88,200.33 L582.53,201.85 L582.88,203.37 L583.9,204.78 L585.51,206 L639.29,237.05 L641.4,237.98 L643.85,238.57 L646.48,238.77 L649.11,238.57 L651.56,237.98 L653.67,237.05 L655.28,235.83 L656.3,234.42 L656.64,232.9 L656.3,231.38 L655.28,229.97 L653.67,228.75 Z" fill="#a8a8a8" stroke="#262626" stroke-width="1.15" stroke-linejoin="round" /><ellipse cx="592.7" cy="201.85" rx="2.1" ry="1.15" transform="rotate(28 592.7 201.85)" fill="#555" stroke="#262626" stroke-width="0.6"/><ellipse cx="600.58" cy="206.4" rx="1.35" ry="0.95" fill="#555" stroke="#262626" stroke-width="0.5"/><ellipse cx="638.17" cy="228.1" rx="1.35" ry="0.95" fill="#555" stroke="#262626" stroke-width="0.5"/><ellipse cx="646.48" cy="232.9" rx="2.1" ry="1.15" transform="rotate(28 646.48 232.9)" fill="#555" stroke="#262626" stroke-width="0.6"/><path d="M764.87,149.39 L767.47,151.09 L767.47,168.79 L764.87,167.19 Z" fill="#a8a8a8" stroke="#262626" stroke-width="1.15" stroke-linejoin="round" /><path d="M767.47,151.09 L780.27,160.59 L767.47,168.79 Z" fill="#a8a8a8" stroke="#262626" stroke-width="1.15" stroke-linejoin="round" /><ellipse cx="773.47" cy="160.99" rx="1.45" ry="1.7" fill="#777" stroke="#262626" stroke-width="0.8"/><path d="M739.66,119.89 L737.55,118.96 L735.1,118.37 L732.47,118.17 L729.84,118.37 L727.39,118.96 L725.28,119.89 L723.67,121.1 L722.65,122.52 L722.31,124.04 L722.65,125.56 L723.67,126.97 L725.28,128.19 L779.06,159.24 L781.17,160.17 L783.62,160.76 L786.25,160.96 L788.88,160.76 L791.33,160.17 L793.44,159.24 L795.05,158.02 L796.07,156.61 L796.42,155.09 L796.07,153.57 L795.05,152.15 L793.44,150.94 Z" fill="#a8a8a8" stroke="#262626" stroke-width="1.15" stroke-linejoin="round" /><path d="M739.66,117.89 L737.55,116.96 L735.1,116.37 L732.47,116.17 L729.84,116.37 L727.39,116.96 L725.28,117.89 L723.67,119.1 L722.65,120.52 L722.31,122.04 L722.65,123.56 L723.67,124.97 L725.28,126.19 L779.06,157.24 L781.17,158.17 L783.62,158.76 L786.25,158.96 L788.88,158.76 L791.33,158.17 L793.44,157.24 L795.05,156.02 L796.07,154.61 L796.42,153.09 L796.07,151.57 L795.05,150.15 L793.44,148.94 Z" fill="#a8a8a8" stroke="#262626" stroke-width="1.15" stroke-linejoin="round" /><ellipse cx="732.47" cy="122.04" rx="2.1" ry="1.15" transform="rotate(28 732.47 122.04)" fill="#555" stroke="#262626" stroke-width="0.6"/><ellipse cx="740.35" cy="126.59" rx="1.35" ry="0.95" fill="#555" stroke="#262626" stroke-width="0.5"/><ellipse cx="777.94" cy="148.29" rx="1.35" ry="0.95" fill="#555" stroke="#262626" stroke-width="0.5"/><ellipse cx="786.25" cy="153.09" rx="2.1" ry="1.15" transform="rotate(28 786.25 153.09)" fill="#555" stroke="#262626" stroke-width="0.6"/>
<use href="#rb" x="1" y="247" />
<path d="M133.2,512.7 L136.1,513.9 L136.1,523.2 L133.2,522.2 Z" fill="#e4e4e4" stroke="#262626" stroke-width="1.15" stroke-linejoin="round" /><path d="M272.97,432.89 L275.87,434.09 L275.87,443.39 L272.97,442.39 Z" fill="#e4e4e4" stroke="#262626" stroke-width="1.15" stroke-linejoin="round" /><path d="M285.64,443.71 L360.98,400.69 L360.98,407.19 L285.64,450.21 Z" fill="#a8a8a8" stroke="#262626" stroke-width="1.15" stroke-linejoin="round" /><path d="M281.31,440.68 L358.6,396.55 L360.98,399.24 L360.98,400.69 L285.64,443.71 Z" fill="#a8a8a8" stroke="#262626" stroke-width="1.15" stroke-linejoin="round" /><path d="M127.85,536.26 L283.91,447.15 L283.91,460.45 L127.85,551.66 Z" fill="#a8a8a8" stroke="#262626" stroke-width="1.15" stroke-linejoin="round" /><path d="M118.5,530.8 L282.17,437.34 L291.53,442.8 L127.85,536.26 Z" fill="#a8a8a8" stroke="#262626" stroke-width="1.15" stroke-linejoin="round" /><path d="M123.18,533.53 L286.85,440.07" fill="none" stroke="#262626" stroke-width="1.15" stroke-linecap="round" stroke-linejoin="round" /><path d="M118.5,530.8 L127.85,536.26 L127.85,551.66 L118.5,546.2 Z" fill="#c4c4c4" stroke="#262626" stroke-width="1.15" stroke-linejoin="round" /><path d="M123.18,533.53 L123.18,548.93" fill="none" stroke="#262626" stroke-width="1.15" stroke-linecap="round" stroke-linejoin="round" />
<use href="#bar" x="1" y="247" /><use href="#rf" x="1" y="247" />
<path d="M153.83,521.42 L291.53,442.8 L297.24,446.14 L159.55,524.76 Z" fill="#a8a8a8" stroke="none" stroke-width="0" stroke-linejoin="round" /><path d="M153.83,521.42 L291.53,442.8" fill="none" stroke="#262626" stroke-width="1.15" stroke-linecap="round" stroke-linejoin="round" /><path d="M159.55,524.76 L297.24,446.14" fill="none" stroke="#262626" stroke-width="1.15" stroke-linecap="round" stroke-linejoin="round" /><path d="M288.24,442.23 L360.98,400.69 L360.98,407.19 L362.71,407.9 L291.7,448.45 Z" fill="#a8a8a8" stroke="none" stroke-width="0" stroke-linejoin="round" /><path d="M288.24,442.23 L360.98,400.69 L360.98,407.19" fill="none" stroke="#262626" stroke-width="1.15" stroke-linecap="round" stroke-linejoin="round" /><path d="M296.03,462.23 L370.33,419.8 L374.66,421.53 L300.36,463.95 Z" fill="#a8a8a8" stroke="#262626" stroke-width="1.15" stroke-linejoin="round" /><path d="M296.03,452.23 L369.9,410.05 L370.33,419.8 L296.03,462.23 Z" fill="#a8a8a8" stroke="#262626" stroke-width="1.15" stroke-linejoin="round" /><path d="M291.7,448.45 L370.33,403.55 L374.66,405.58 L374.66,407.13 L296.03,452.23 Z" fill="#a8a8a8" stroke="#262626" stroke-width="1.15" stroke-linejoin="round" /><path d="M295.16,450.82 L374.66,405.43" fill="none" stroke="#262626" stroke-width="0.8" stroke-linecap="round" stroke-linejoin="round" /><ellipse cx="347.73" cy="427.71" rx="1.35" ry="1.6" fill="#777" stroke="#262626" stroke-width="0.8"/><path d="M142.92,545.06 L306.6,451.59 L306.6,464.89 L160.07,548.56 L142.92,560.46 Z" fill="#a8a8a8" stroke="#262626" stroke-width="1.15" stroke-linejoin="round" /><path d="M133.57,539.6 L297.24,446.14 L306.6,451.59 L142.92,545.06 Z" fill="#a8a8a8" stroke="#262626" stroke-width="1.15" stroke-linejoin="round" /><path d="M137.98,542.17 L301.66,448.71" fill="none" stroke="#262626" stroke-width="1.15" stroke-linecap="round" stroke-linejoin="round" /><path d="M133.57,541.1 L142.92,545.06 L142.92,560.46 L133.57,555 Z" fill="#c4c4c4" stroke="#262626" stroke-width="1.15" stroke-linejoin="round" /><path d="M138.24,543.03 L138.24,557.73" fill="none" stroke="#262626" stroke-width="1.15" stroke-linecap="round" stroke-linejoin="round" /><path d="M160.1,527.6 L162.7,529.3 L162.7,547 L160.1,545.4 Z" fill="#a8a8a8" stroke="#262626" stroke-width="1.15" stroke-linejoin="round" /><path d="M162.7,529.3 L175.5,538.8 L162.7,547 Z" fill="#a8a8a8" stroke="#262626" stroke-width="1.15" stroke-linejoin="round" /><ellipse cx="168.7" cy="539.2" rx="1.45" ry="1.7" fill="#777" stroke="#262626" stroke-width="0.8"/><path d="M134.89,498.1 L132.78,497.17 L130.33,496.58 L127.7,496.38 L125.07,496.58 L122.62,497.17 L120.51,498.1 L118.9,499.32 L117.88,500.73 L117.53,502.25 L117.88,503.77 L118.9,505.18 L120.51,506.4 L174.29,537.45 L176.4,538.38 L178.85,538.97 L181.48,539.17 L184.11,538.97 L186.56,538.38 L188.67,537.45 L190.28,536.23 L191.3,534.82 L191.64,533.3 L191.3,531.78 L190.28,530.37 L188.67,529.15 Z" fill="#a8a8a8" stroke="#262626" stroke-width="1.15" stroke-linejoin="round" /><path d="M134.89,496.1 L132.78,495.17 L130.33,494.58 L127.7,494.38 L125.07,494.58 L122.62,495.17 L120.51,496.1 L118.9,497.32 L117.88,498.73 L117.53,500.25 L117.88,501.77 L118.9,503.18 L120.51,504.4 L174.29,535.45 L176.4,536.38 L178.85,536.97 L181.48,537.17 L184.11,536.97 L186.56,536.38 L188.67,535.45 L190.28,534.23 L191.3,532.82 L191.64,531.3 L191.3,529.78 L190.28,528.37 L188.67,527.15 Z" fill="#a8a8a8" stroke="#262626" stroke-width="1.15" stroke-linejoin="round" /><ellipse cx="127.7" cy="500.25" rx="2.1" ry="1.15" transform="rotate(28 127.7 500.25)" fill="#555" stroke="#262626" stroke-width="0.6"/><ellipse cx="135.58" cy="504.8" rx="1.35" ry="0.95" fill="#555" stroke="#262626" stroke-width="0.5"/><ellipse cx="173.16" cy="526.5" rx="1.35" ry="0.95" fill="#555" stroke="#262626" stroke-width="0.5"/><ellipse cx="181.48" cy="531.3" rx="2.1" ry="1.15" transform="rotate(28 181.48 531.3)" fill="#555" stroke="#262626" stroke-width="0.6"/><path d="M299.87,447.79 L302.47,449.49 L302.47,467.19 L299.87,465.59 Z" fill="#a8a8a8" stroke="#262626" stroke-width="1.15" stroke-linejoin="round" /><path d="M302.47,449.49 L315.27,458.99 L302.47,467.19 Z" fill="#a8a8a8" stroke="#262626" stroke-width="1.15" stroke-linejoin="round" /><ellipse cx="308.47" cy="459.39" rx="1.45" ry="1.7" fill="#777" stroke="#262626" stroke-width="0.8"/><path d="M274.66,418.29 L272.55,417.36 L270.1,416.77 L267.47,416.57 L264.84,416.77 L262.39,417.36 L260.28,418.29 L258.67,419.5 L257.65,420.92 L257.31,422.44 L257.65,423.96 L258.67,425.37 L260.28,426.59 L314.06,457.64 L316.17,458.57 L318.62,459.16 L321.25,459.36 L323.88,459.16 L326.33,458.57 L328.44,457.64 L330.05,456.42 L331.07,455.01 L331.42,453.49 L331.07,451.97 L330.05,450.55 L328.44,449.34 Z" fill="#a8a8a8" stroke="#262626" stroke-width="1.15" stroke-linejoin="round" /><path d="M274.66,416.29 L272.55,415.36 L270.1,414.77 L267.47,414.57 L264.84,414.77 L262.39,415.36 L260.28,416.29 L258.67,417.5 L257.65,418.92 L257.31,420.44 L257.65,421.96 L258.67,423.37 L260.28,424.59 L314.06,455.64 L316.17,456.57 L318.62,457.16 L321.25,457.36 L323.88,457.16 L326.33,456.57 L328.44,455.64 L330.05,454.42 L331.07,453.01 L331.42,451.49 L331.07,449.97 L330.05,448.55 L328.44,447.34 Z" fill="#a8a8a8" stroke="#262626" stroke-width="1.15" stroke-linejoin="round" /><ellipse cx="267.47" cy="420.44" rx="2.1" ry="1.15" transform="rotate(28 267.47 420.44)" fill="#555" stroke="#262626" stroke-width="0.6"/><ellipse cx="275.35" cy="424.99" rx="1.35" ry="0.95" fill="#555" stroke="#262626" stroke-width="0.5"/><ellipse cx="312.94" cy="446.69" rx="1.35" ry="0.95" fill="#555" stroke="#262626" stroke-width="0.5"/><ellipse cx="321.25" cy="451.49" rx="2.1" ry="1.15" transform="rotate(28 321.25 451.49)" fill="#555" stroke="#262626" stroke-width="0.6"/>
<use href="#rb" x="468.8" y="231.3" />
<path d="M590.98,517.83 L721.4,443.36 L725.73,446.29 L595.65,520.56 Z" fill="#a8a8a8" stroke="#262626" stroke-width="1.15" stroke-linejoin="round" /><path d="M588.03,522.51 L590.98,517.83 L595.65,520.56 L595.65,528.56 L588.03,526.11 Z" fill="#a8a8a8" stroke="#262626" stroke-width="1.15" stroke-linejoin="round" /><path d="M788.92,389.69 L791.82,390.89 L791.82,400.19 L788.92,399.19 Z" fill="#e4e4e4" stroke="#262626" stroke-width="1.15" stroke-linejoin="round" /><path d="M928.69,309.88 L931.59,311.08 L931.59,320.38 L928.69,319.38 Z" fill="#e4e4e4" stroke="#262626" stroke-width="1.15" stroke-linejoin="round" /><path d="M723.82,447.37 L939.63,324.14 L939.63,337.44 L723.82,462.77 Z" fill="#a8a8a8" stroke="#262626" stroke-width="1.15" stroke-linejoin="round" /><path d="M714.47,441.91 L937.9,314.33 L947.25,319.79 L723.82,447.37 Z" fill="#a8a8a8" stroke="#262626" stroke-width="1.15" stroke-linejoin="round" /><path d="M719.14,444.64 L942.57,317.06" fill="none" stroke="#262626" stroke-width="1.15" stroke-linecap="round" stroke-linejoin="round" /><path d="M714.47,441.91 L719.14,444.64 L719.14,450.64 L714.47,447.91 Z" fill="#c4c4c4" stroke="#262626" stroke-width="1.15" stroke-linejoin="round" />
<use href="#bar" x="468.8" y="231.3" /><use href="#rf" x="468.8" y="231.3" />
<path d="M606.04,526.63 L736.98,451.86 L736.98,465.06 L606.04,540.33 Z" fill="#a8a8a8" stroke="#262626" stroke-width="1.15" stroke-linejoin="round" /><path d="M601.37,523.9 L731.79,449.42 L736.98,451.86 L606.04,526.63 Z" fill="#a8a8a8" stroke="#262626" stroke-width="1.15" stroke-linejoin="round" /><path d="M603.62,525.21 L734.39,450.54" fill="none" stroke="#262626" stroke-width="1.15" stroke-linecap="round" stroke-linejoin="round" /><path d="M601.37,523.9 L606.04,526.63 L606.04,540.33 L601.37,538.5 Z" fill="#c4c4c4" stroke="#262626" stroke-width="1.15" stroke-linejoin="round" /><ellipse cx="626.57" cy="522.51" rx="1.25" ry="1.5" fill="#666" stroke="#262626" stroke-width="0.8"/><path d="M809.55,398.42 L947.25,319.79 L952.96,323.13 L815.27,401.75 Z" fill="#a8a8a8" stroke="none" stroke-width="0" stroke-linejoin="round" /><path d="M809.55,398.42 L947.25,319.79" fill="none" stroke="#262626" stroke-width="1.15" stroke-linecap="round" stroke-linejoin="round" /><path d="M815.27,401.75 L952.96,323.13" fill="none" stroke="#262626" stroke-width="1.15" stroke-linecap="round" stroke-linejoin="round" /><path d="M790.07,410.04 L804.79,401.64 L809.55,404.42 L794.83,412.82 Z" fill="#fff" stroke="#262626" stroke-width="1.15" stroke-linejoin="round" /><path d="M738.89,456.17 L962.32,328.59 L962.32,341.89 L756.04,459.68 L738.89,471.57 Z" fill="#a8a8a8" stroke="#262626" stroke-width="1.15" stroke-linejoin="round" /><path d="M729.54,450.71 L952.96,323.13 L962.32,328.59 L738.89,456.17 Z" fill="#a8a8a8" stroke="#262626" stroke-width="1.15" stroke-linejoin="round" /><path d="M733.95,453.29 L957.38,325.71" fill="none" stroke="#262626" stroke-width="1.15" stroke-linecap="round" stroke-linejoin="round" /><path d="M734.21,453.44 L738.89,456.17 L738.89,470.57 L734.21,467.34 Z" fill="#c4c4c4" stroke="#262626" stroke-width="1.15" stroke-linejoin="round" /><path d="M815.82,404.59 L818.42,406.29 L818.42,423.99 L815.82,422.39 Z" fill="#a8a8a8" stroke="#262626" stroke-width="1.15" stroke-linejoin="round" /><path d="M818.42,406.29 L831.22,415.79 L818.42,423.99 Z" fill="#a8a8a8" stroke="#262626" stroke-width="1.15" stroke-linejoin="round" /><ellipse cx="824.42" cy="416.19" rx="1.45" ry="1.7" fill="#777" stroke="#262626" stroke-width="0.8"/><path d="M790.61,375.09 L788.5,374.16 L786.05,373.57 L783.42,373.37 L780.79,373.57 L778.34,374.16 L776.23,375.09 L774.62,376.31 L773.6,377.72 L773.26,379.24 L773.6,380.76 L774.62,382.18 L776.23,383.39 L830.01,414.44 L832.12,415.38 L834.57,415.96 L837.2,416.16 L839.83,415.96 L842.28,415.38 L844.39,414.44 L846,413.23 L847.02,411.81 L847.37,410.29 L847.02,408.77 L846,407.36 L844.39,406.14 Z" fill="#a8a8a8" stroke="#262626" stroke-width="1.15" stroke-linejoin="round" /><path d="M790.61,373.09 L788.5,372.16 L786.05,371.57 L783.42,371.37 L780.79,371.57 L778.34,372.16 L776.23,373.09 L774.62,374.31 L773.6,375.72 L773.26,377.24 L773.6,378.76 L774.62,380.18 L776.23,381.39 L830.01,412.44 L832.12,413.38 L834.57,413.96 L837.2,414.16 L839.83,413.96 L842.28,413.38 L844.39,412.44 L846,411.23 L847.02,409.81 L847.37,408.29 L847.02,406.77 L846,405.36 L844.39,404.14 Z" fill="#a8a8a8" stroke="#262626" stroke-width="1.15" stroke-linejoin="round" /><ellipse cx="783.42" cy="377.24" rx="2.1" ry="1.15" transform="rotate(28 783.42 377.24)" fill="#555" stroke="#262626" stroke-width="0.6"/><ellipse cx="791.3" cy="381.79" rx="1.35" ry="0.95" fill="#555" stroke="#262626" stroke-width="0.5"/><ellipse cx="828.89" cy="403.49" rx="1.35" ry="0.95" fill="#555" stroke="#262626" stroke-width="0.5"/><ellipse cx="837.2" cy="408.29" rx="2.1" ry="1.15" transform="rotate(28 837.2 408.29)" fill="#555" stroke="#262626" stroke-width="0.6"/><path d="M955.59,324.78 L958.19,326.48 L958.19,344.18 L955.59,342.58 Z" fill="#a8a8a8" stroke="#262626" stroke-width="1.15" stroke-linejoin="round" /><path d="M958.19,326.48 L970.99,335.98 L958.19,344.18 Z" fill="#a8a8a8" stroke="#262626" stroke-width="1.15" stroke-linejoin="round" /><ellipse cx="964.19" cy="336.38" rx="1.45" ry="1.7" fill="#777" stroke="#262626" stroke-width="0.8"/><path d="M930.38,295.28 L928.28,294.35 L925.83,293.76 L923.19,293.56 L920.56,293.76 L918.11,294.35 L916.01,295.28 L914.39,296.5 L913.38,297.91 L913.03,299.43 L913.38,300.95 L914.39,302.37 L916.01,303.58 L969.79,334.63 L971.89,335.56 L974.34,336.15 L976.97,336.35 L979.6,336.15 L982.06,335.56 L984.16,334.63 L985.78,333.42 L986.79,332 L987.14,330.48 L986.79,328.96 L985.78,327.55 L984.16,326.33 Z" fill="#a8a8a8" stroke="#262626" stroke-width="1.15" stroke-linejoin="round" /><path d="M930.38,293.28 L928.28,292.35 L925.83,291.76 L923.19,291.56 L920.56,291.76 L918.11,292.35 L916.01,293.28 L914.39,294.5 L913.38,295.91 L913.03,297.43 L913.38,298.95 L914.39,300.37 L916.01,301.58 L969.79,332.63 L971.89,333.56 L974.34,334.15 L976.97,334.35 L979.6,334.15 L982.06,333.56 L984.16,332.63 L985.78,331.42 L986.79,330 L987.14,328.48 L986.79,326.96 L985.78,325.55 L984.16,324.33 Z" fill="#a8a8a8" stroke="#262626" stroke-width="1.15" stroke-linejoin="round" /><ellipse cx="923.19" cy="297.43" rx="2.1" ry="1.15" transform="rotate(28 923.19 297.43)" fill="#555" stroke="#262626" stroke-width="0.6"/><ellipse cx="931.07" cy="301.98" rx="1.35" ry="0.95" fill="#555" stroke="#262626" stroke-width="0.5"/><ellipse cx="968.66" cy="323.68" rx="1.35" ry="0.95" fill="#555" stroke="#262626" stroke-width="0.5"/><ellipse cx="976.97" cy="328.48" rx="2.1" ry="1.15" transform="rotate(28 976.97 328.48)" fill="#555" stroke="#262626" stroke-width="0.6"/>
<use href="#rb" x="206.2" y="508.7" />
<path d="M341.4,772.7 L344.3,773.9 L344.3,783.2 L341.4,782.2 Z" fill="#fff" stroke="#262626" stroke-width="1.15" stroke-linejoin="round" /><path d="M481.17,692.89 L484.07,694.09 L484.07,703.39 L481.17,702.39 Z" fill="#fff" stroke="#262626" stroke-width="1.15" stroke-linejoin="round" /><path d="M493.84,703.71 L569.18,660.69 L569.18,667.19 L493.84,710.21 Z" fill="#fff" stroke="#262626" stroke-width="1.15" stroke-linejoin="round" /><path d="M489.51,700.68 L566.8,656.55 L569.18,659.24 L569.18,660.69 L493.84,703.71 Z" fill="#fff" stroke="#262626" stroke-width="1.15" stroke-linejoin="round" /><path d="M336.05,796.26 L492.11,707.15 L492.11,720.45 L336.05,811.66 Z" fill="#fff" stroke="#262626" stroke-width="1.15" stroke-linejoin="round" /><path d="M326.7,790.8 L490.37,697.34 L499.73,702.8 L336.05,796.26 Z" fill="#fff" stroke="#262626" stroke-width="1.15" stroke-linejoin="round" /><path d="M331.38,793.53 L495.05,700.07" fill="none" stroke="#262626" stroke-width="1.15" stroke-linecap="round" stroke-linejoin="round" /><path d="M326.7,790.8 L336.05,796.26 L336.05,811.66 L326.7,806.2 Z" fill="#fff" stroke="#262626" stroke-width="1.15" stroke-linejoin="round" /><path d="M331.38,793.53 L331.38,808.93" fill="none" stroke="#262626" stroke-width="1.15" stroke-linecap="round" stroke-linejoin="round" />
<use href="#bard" x="206.2" y="508.7" /><use href="#rf" x="206.2" y="508.7" />
<path d="M329.12,800.22 L504.92,699.83 L510.64,703.17 L334.84,803.55 Z" fill="#555" stroke="none" stroke-width="0" stroke-linejoin="round" /><path d="M329.12,800.22 L504.92,699.83" fill="none" stroke="#262626" stroke-width="1.15" stroke-linecap="round" stroke-linejoin="round" /><path d="M334.84,803.55 L510.64,703.17" fill="none" stroke="#262626" stroke-width="1.15" stroke-linecap="round" stroke-linejoin="round" /><path d="M496.44,702.23 L569.18,660.69 L569.18,667.19 L570.91,667.9 L499.9,708.45 Z" fill="#fff" stroke="none" stroke-width="0" stroke-linejoin="round" /><path d="M496.44,702.23 L569.18,660.69 L569.18,667.19" fill="none" stroke="#262626" stroke-width="1.15" stroke-linecap="round" stroke-linejoin="round" /><path d="M504.23,722.23 L578.53,679.8 L582.86,681.53 L508.56,723.95 Z" fill="#fff" stroke="#262626" stroke-width="1.15" stroke-linejoin="round" /><path d="M504.23,712.23 L578.1,670.05 L578.53,679.8 L504.23,722.23 Z" fill="#fff" stroke="#262626" stroke-width="1.15" stroke-linejoin="round" /><path d="M499.9,708.45 L578.53,663.55 L582.86,665.58 L582.86,667.13 L504.23,712.23 Z" fill="#fff" stroke="#262626" stroke-width="1.15" stroke-linejoin="round" /><path d="M503.36,710.82 L582.86,665.43" fill="none" stroke="#262626" stroke-width="0.8" stroke-linecap="round" stroke-linejoin="round" /><ellipse cx="555.93" cy="687.71" rx="1.35" ry="1.6" fill="#777" stroke="#262626" stroke-width="0.8"/><path d="M351.12,805.06 L514.8,711.59 L514.8,724.89 L368.27,808.56 L351.12,820.46 Z" fill="#fff" stroke="#262626" stroke-width="1.15" stroke-linejoin="round" /><path d="M341.77,799.6 L505.44,706.14 L514.8,711.59 L351.12,805.06 Z" fill="#fff" stroke="#262626" stroke-width="1.15" stroke-linejoin="round" /><path d="M346.19,802.17 L509.86,708.71" fill="none" stroke="#262626" stroke-width="1.15" stroke-linecap="round" stroke-linejoin="round" /><path d="M341.77,801.1 L351.12,805.06 L351.12,820.46 L341.77,815 Z" fill="#fff" stroke="#262626" stroke-width="1.15" stroke-linejoin="round" /><path d="M346.44,803.03 L346.44,817.73" fill="none" stroke="#262626" stroke-width="1.15" stroke-linecap="round" stroke-linejoin="round" /><path d="M368.3,787.6 L370.9,789.3 L370.9,807 L368.3,805.4 Z" fill="#fff" stroke="#262626" stroke-width="1.15" stroke-linejoin="round" /><path d="M370.9,789.3 L383.7,798.8 L370.9,807 Z" fill="#fff" stroke="#262626" stroke-width="1.15" stroke-linejoin="round" /><ellipse cx="376.9" cy="799.2" rx="1.45" ry="1.7" fill="#777" stroke="#262626" stroke-width="0.8"/><path d="M343.09,758.1 L340.98,757.17 L338.53,756.58 L335.9,756.38 L333.27,756.58 L330.82,757.17 L328.71,758.1 L327.1,759.32 L326.08,760.73 L325.73,762.25 L326.08,763.77 L327.1,765.18 L328.71,766.4 L382.49,797.45 L384.6,798.38 L387.05,798.97 L389.68,799.17 L392.31,798.97 L394.76,798.38 L396.87,797.45 L398.48,796.23 L399.5,794.82 L399.84,793.3 L399.5,791.78 L398.48,790.37 L396.87,789.15 Z" fill="#fff" stroke="#262626" stroke-width="1.15" stroke-linejoin="round" /><path d="M343.09,756.1 L340.98,755.17 L338.53,754.58 L335.9,754.38 L333.27,754.58 L330.82,755.17 L328.71,756.1 L327.1,757.32 L326.08,758.73 L325.73,760.25 L326.08,761.77 L327.1,763.18 L328.71,764.4 L382.49,795.45 L384.6,796.38 L387.05,796.97 L389.68,797.17 L392.31,796.97 L394.76,796.38 L396.87,795.45 L398.48,794.23 L399.5,792.82 L399.84,791.3 L399.5,789.78 L398.48,788.37 L396.87,787.15 Z" fill="#fff" stroke="#262626" stroke-width="1.15" stroke-linejoin="round" /><ellipse cx="335.9" cy="760.25" rx="2.1" ry="1.15" transform="rotate(28 335.9 760.25)" fill="#555" stroke="#262626" stroke-width="0.6"/><ellipse cx="343.78" cy="764.8" rx="1.35" ry="0.95" fill="#555" stroke="#262626" stroke-width="0.5"/><ellipse cx="381.36" cy="786.5" rx="1.35" ry="0.95" fill="#555" stroke="#262626" stroke-width="0.5"/><ellipse cx="389.68" cy="791.3" rx="2.1" ry="1.15" transform="rotate(28 389.68 791.3)" fill="#555" stroke="#262626" stroke-width="0.6"/><path d="M508.07,707.79 L510.67,709.49 L510.67,727.19 L508.07,725.59 Z" fill="#fff" stroke="#262626" stroke-width="1.15" stroke-linejoin="round" /><path d="M510.67,709.49 L523.47,718.99 L510.67,727.19 Z" fill="#fff" stroke="#262626" stroke-width="1.15" stroke-linejoin="round" /><ellipse cx="516.67" cy="719.39" rx="1.45" ry="1.7" fill="#777" stroke="#262626" stroke-width="0.8"/><path d="M482.86,678.29 L480.75,677.36 L478.3,676.77 L475.67,676.57 L473.04,676.77 L470.59,677.36 L468.48,678.29 L466.87,679.5 L465.85,680.92 L465.51,682.44 L465.85,683.96 L466.87,685.37 L468.48,686.59 L522.26,717.64 L524.37,718.57 L526.82,719.16 L529.45,719.36 L532.08,719.16 L534.53,718.57 L536.64,717.64 L538.25,716.42 L539.27,715.01 L539.62,713.49 L539.27,711.97 L538.25,710.55 L536.64,709.34 Z" fill="#fff" stroke="#262626" stroke-width="1.15" stroke-linejoin="round" /><path d="M482.86,676.29 L480.75,675.36 L478.3,674.77 L475.67,674.57 L473.04,674.77 L470.59,675.36 L468.48,676.29 L466.87,677.5 L465.85,678.92 L465.51,680.44 L465.85,681.96 L466.87,683.37 L468.48,684.59 L522.26,715.64 L524.37,716.57 L526.82,717.16 L529.45,717.36 L532.08,717.16 L534.53,716.57 L536.64,715.64 L538.25,714.42 L539.27,713.01 L539.62,711.49 L539.27,709.97 L538.25,708.55 L536.64,707.34 Z" fill="#fff" stroke="#262626" stroke-width="1.15" stroke-linejoin="round" /><ellipse cx="475.67" cy="680.44" rx="2.1" ry="1.15" transform="rotate(28 475.67 680.44)" fill="#555" stroke="#262626" stroke-width="0.6"/><ellipse cx="483.55" cy="684.99" rx="1.35" ry="0.95" fill="#555" stroke="#262626" stroke-width="0.5"/><ellipse cx="521.14" cy="706.69" rx="1.35" ry="0.95" fill="#555" stroke="#262626" stroke-width="0.5"/><ellipse cx="529.45" cy="711.49" rx="2.1" ry="1.15" transform="rotate(28 529.45 711.49)" fill="#555" stroke="#262626" stroke-width="0.6"/>
<path d="M316.35,805.8 L316.35,826.9 A6.2,3.9 0 0 0 328.75,826.9 L328.75,805.8 Z" fill="#a9a9a9" stroke="#262626" stroke-width="1.2"/><ellipse cx="322.55" cy="805.8" rx="6.2" ry="3.9" fill="#bcbcbc" stroke="#262626" stroke-width="1.2"/><circle cx="323.2" cy="816.3" r="22.3" fill="none" stroke="#4a4a4a" stroke-width="1.2" stroke-dasharray="4 3"/><path d="M253.2,867.6 L314.8,838.2" fill="none" stroke="#4a4a4a" stroke-width="1.2" stroke-dasharray="4.4 3.2"/><path d="M345.5,824.6 L604.8,821.7" fill="none" stroke="#4a4a4a" stroke-width="1.2" stroke-dasharray="4.4 3.2"/>
<clipPath id="c51"><circle cx="177.6" cy="893.2" r="76.6"/></clipPath><g clip-path="url(#c51)"><path d="M107.57,805.48 L195.47,856.25" fill="none" stroke="#262626" stroke-width="9.2" stroke-linecap="butt" stroke-linejoin="round"/><path d="M107.57,805.48 L195.47,856.25" fill="none" stroke="#fff" stroke-width="6.8" stroke-linecap="butt" stroke-linejoin="round"/><path d="M77.57,835.21 L280.32,950.76" fill="none" stroke="#262626" stroke-width="9" stroke-linecap="butt" stroke-linejoin="round"/><path d="M77.57,835.21 L280.32,950.76" fill="none" stroke="#fff" stroke-width="6.6" stroke-linecap="butt" stroke-linejoin="round"/><path d="M197.58,903.53 L200.39,905.12" fill="none" stroke="#262626" stroke-width="9.6" stroke-linecap="butt" stroke-linejoin="round"/><path d="M197.58,903.53 L200.39,905.12" fill="none" stroke="#fff" stroke-width="7.2" stroke-linecap="butt" stroke-linejoin="round"/><path d="M194.94,827.77 L202.5,823.2 L213.92,828.12 L221.83,833.4 L221.83,837.79 L204.26,846.05 L194.94,847.46 Z" fill="#fff" stroke="#262626" stroke-width="1.2" stroke-linejoin="round" /><path d="M204.26,832.52 L204.26,846.05" fill="none" stroke="#262626" stroke-width="1.2" stroke-linecap="round" stroke-linejoin="round" /><path d="M194.94,827.77 L198.63,826.37 L204.26,832.52 L213.04,828.12" fill="none" stroke="#262626" stroke-width="1.2" stroke-linecap="round" stroke-linejoin="round" /><path d="M188.44,864.16 L234.14,839.02 L234.14,874.71 L188.44,899.67 Z" fill="#686868" stroke="#262626" stroke-width="1.2" stroke-linejoin="round" /><path d="M177.36,858.89 L220.95,833.4 L233.26,839.55 L188.44,864.16 Z" fill="#555" stroke="#262626" stroke-width="1.2" stroke-linejoin="round" /><path d="M177.36,858.89 L188.44,864.16 L188.44,899.67 L177.36,893.16 Z" fill="#5c5c5c" stroke="#262626" stroke-width="1.2" stroke-linejoin="round" /><path d="M226.23,843.59 L232.73,840.43 L239.41,846.05 L243.28,852.73 L249.08,861.52 L258.75,870.31 L258.75,882.62 L245.56,885.6 L226.23,877.34 Z" fill="#fff" stroke="#262626" stroke-width="1.2" stroke-linejoin="round" /><path d="M235.9,849.57 L235.9,881.21" fill="none" stroke="#262626" stroke-width="1.2" stroke-linecap="round" stroke-linejoin="round" /><path d="M245.56,853.61 L245.56,885.6" fill="none" stroke="#262626" stroke-width="1.2" stroke-linecap="round" stroke-linejoin="round" /><path d="M226.23,843.59 L230.62,842.71 L235.9,849.57 L240.82,850.45 L245.56,853.61" fill="none" stroke="#262626" stroke-width="1.2" stroke-linecap="round" stroke-linejoin="round" /><path d="M221.48,878.22 L281.38,911.91" fill="none" stroke="#262626" stroke-width="8.8" stroke-linecap="round" stroke-linejoin="round"/><path d="M221.48,878.22 L281.38,911.91" fill="none" stroke="#fff" stroke-width="6.4" stroke-linecap="round" stroke-linejoin="round"/><path d="M127.6,879.2 L127.6,925.5 A14,7.9 0 0 0 155.6,925.5 L155.6,879.2 Z" fill="#a9a9a9" stroke="#262626" stroke-width="1.2"/><ellipse cx="141.6" cy="879.2" rx="14" ry="7.9" fill="#bcbcbc" stroke="#262626" stroke-width="1.2"/></g><circle cx="177.6" cy="893.2" r="76.6" fill="none" stroke="#4a4a4a" stroke-width="1.3" stroke-dasharray="4.8 3.6"/><path d="M75.74,960.8 L114.6,939.98" fill="none" stroke="#1c1c1c" stroke-width="5.6"  stroke-linejoin="round" stroke-linecap="butt"/><path d="M95.55,934.39 L126.53,932.36 L122.21,949.63 Z" fill="#1c1c1c" stroke="none" stroke-width="0" stroke-linejoin="round" /><circle cx="203.1" cy="963.7" r="20.8" fill="#88888a"/><text x="202.7" y="975" font-size="25" font-weight="bold" fill="#fff" text-anchor="middle">5.1</text>
<clipPath id="c52"><circle cx="715.6" cy="789.7" r="111"/></clipPath><g clip-path="url(#c52)"><path d="M608.16,664.69 L721.71,728.43" fill="none" stroke="#262626" stroke-width="10" stroke-linecap="butt" stroke-linejoin="round"/><path d="M608.16,664.69 L721.71,728.43" fill="none" stroke="#fff" stroke-width="7.6" stroke-linecap="butt" stroke-linejoin="round"/><path d="M574.4,694.4 L702.37,766.03" fill="none" stroke="#262626" stroke-width="9" stroke-linecap="butt" stroke-linejoin="round"/><path d="M574.4,694.4 L702.37,766.03" fill="none" stroke="#fff" stroke-width="6.6" stroke-linecap="butt" stroke-linejoin="round"/><path d="M728.58,782.35 L853.17,852.99" fill="none" stroke="#262626" stroke-width="8.8" stroke-linecap="butt" stroke-linejoin="round"/><path d="M728.58,782.35 L853.17,852.99" fill="none" stroke="#fff" stroke-width="6.4" stroke-linecap="butt" stroke-linejoin="round"/><path d="M730.52,783.43 L733.52,785.15" fill="none" stroke="#262626" stroke-width="9.6" stroke-linecap="butt" stroke-linejoin="round"/><path d="M730.52,783.43 L733.52,785.15" fill="none" stroke="#fff" stroke-width="7.2" stroke-linecap="butt" stroke-linejoin="round"/><path d="M727.08,704.37 L751.78,689.76 L768.97,694.06 L773.27,699 L738.89,718.34 L738.89,723.71 L727.08,726.28 Z" fill="#fff" stroke="#262626" stroke-width="1.2" stroke-linejoin="round" /><path d="M727.08,704.37 L732.88,702.22 L737.18,709.74 L738.89,710.82 L767.89,694.06" fill="none" stroke="#262626" stroke-width="1.2" stroke-linecap="round" stroke-linejoin="round" /><path d="M732.88,702.22 L753.5,690.41" fill="none" stroke="#262626" stroke-width="1.2" stroke-linecap="round" stroke-linejoin="round" /><path d="M738.89,710.82 L738.89,723.71" fill="none" stroke="#262626" stroke-width="1.2" stroke-linecap="round" stroke-linejoin="round" /><path d="M710.97,679.67 L738.89,696.85" fill="none" stroke="#262626" stroke-width="1.2" stroke-linecap="round" stroke-linejoin="round" /><path d="M730.3,679.02 L747.49,691.48" fill="none" stroke="#262626" stroke-width="1.2" stroke-linecap="round" stroke-linejoin="round" /><path d="M729.66,734.45 L760.38,719.84 L760.38,754.85 L729.66,771.4 Z" fill="#6a6a6a" stroke="#262626" stroke-width="1.2" stroke-linejoin="round" /><path d="M726,726.93 L776.49,697.5 L790.45,706.09 L729.66,734.45 Z" fill="#555" stroke="#262626" stroke-width="1.2" stroke-linejoin="round" /><path d="M727.72,730.79 L784.01,701.79" fill="none" stroke="#333" stroke-width="1.2" stroke-linecap="round" stroke-linejoin="round" /><path d="M779.71,732.3 L803.34,719.84 L822.67,743.04 L781.86,764.52 Z" fill="#fff" stroke="#262626" stroke-width="1.2" stroke-linejoin="round" /><path d="M759.73,722.63 L788.3,706.95 L804.41,718.98 L779.71,732.3 Z" fill="#fff" stroke="#262626" stroke-width="1.2" stroke-linejoin="round" /><path d="M770.04,728 L796.47,713.61" fill="none" stroke="#262626" stroke-width="1.2" stroke-linecap="round" stroke-linejoin="round" /><path d="M759.73,722.63 L764.67,724.35 L770.04,728 L774.98,728.86 L779.71,732.3 L779.71,764.52 L770.04,759.15 L759.73,753.78 Z" fill="#fff" stroke="#262626" stroke-width="1.2" stroke-linejoin="round" /><path d="M770.04,728 L770.04,759.15" fill="none" stroke="#262626" stroke-width="1.2" stroke-linecap="round" stroke-linejoin="round" /><path d="M753.5,755.93 L853.2,811.31" fill="none" stroke="#262626" stroke-width="10.2" stroke-linecap="round" stroke-linejoin="round"/><path d="M753.5,755.93 L853.2,811.31" fill="none" stroke="#fff" stroke-width="7.8" stroke-linecap="round" stroke-linejoin="round"/><path d="M699.58,734.45 L699.58,781.71 A15.04,8.59 0 0 0 729.66,781.71 L729.66,734.45 A15.04,8.59 0 0 0 699.58,734.45 Z" fill="#a4a4a4" stroke="#262626" stroke-width="1.2"/><ellipse cx="714.62" cy="781.71" rx="14.54" ry="8.09" fill="#b4b4b4" stroke="#262626" stroke-width="0.9"/><path d="M709.25,737.02 L713.11,732.3 L721.71,729.08 L729.66,729.29 L729.66,770.97 L722.14,776.77 L709.25,773.11 Z" fill="#5a5a5a" stroke="none" stroke-width="0" stroke-linejoin="round" /><path d="M709.25,737.02 L709.25,773.11" fill="none" stroke="#222" stroke-width="0.9" stroke-dasharray="2.4 1.8"/><path d="M721.71,735.52 L721.71,776.77 L709.25,773.11" fill="none" stroke="#222" stroke-width="0.9" stroke-dasharray="2.4 1.8"/><ellipse cx="714.62" cy="779.13" rx="3.6" ry="4.6" fill="#1c1c1c"/><ellipse cx="714.62" cy="734.45" rx="15.04" ry="8.59" fill="#b9b9b9" fill-opacity="0.55" stroke="#262626" stroke-width="1.2"/></g><circle cx="715.6" cy="789.7" r="111" fill="none" stroke="#4a4a4a" stroke-width="1.3" stroke-dasharray="4.8 3.6"/><path d="M714.62,790.3 L714.62,822.95" fill="none" stroke="#4a4a4a" stroke-width="1" stroke-dasharray="3.6 2.8"/><rect x="699.5" y="890" width="32" height="16" fill="#fff"/><path d="M715.2,823.6 L715.2,905 C715.2,918 712,923 706,928 L690.6,949.4" fill="none" stroke="#262626" stroke-width="6.6" stroke-linecap="round" stroke-linejoin="round"/><path d="M715.2,823.6 L715.2,905 C715.2,918 712,923 706,928 L690.6,949.4" fill="none" stroke="#fff" stroke-width="4.6" stroke-linecap="round" stroke-linejoin="round"/><path d="M716.2,824 L716.2,905 C716.2,918 713,923.6 707,928.6 L691.5,950" fill="none" stroke="#262626" stroke-width="0.8"/><rect x="711" y="822" width="9" height="1.6" fill="#fff"/><path d="M712,823.6 L718.4,823.6" fill="none" stroke="#262626" stroke-width="1" stroke-linecap="round" stroke-linejoin="round" /><path d="M762.6,924.2 L755.75,935.89 L742.05,935.89 L735.2,924.2 L742.05,912.51 L755.75,912.51 Z" fill="#fff" stroke="#262626" stroke-width="1" stroke-linejoin="round" /><text x="769.4" y="929.2" font-size="17.7" fill="#1a1a1a">HEX. 4</text><path d="M736.17,957.81 C726.41,954.49 710.78,954.49 701.02,961.33 C691.25,968.16 689.3,978.91 694.18,985.74 C697.11,989.65 701.99,991.6 706.88,992.19 L706.88,986.72 C701.99,985.74 698.09,982.81 696.13,977.93 C694.77,972.07 699.06,967.19 706.88,964.26 C716.64,960.94 727.38,961.33 736.17,965.62 Z" fill="#1c1c1c"/><path d="M705.9,974.02 L730.7,987.89 L705.9,1007.42 Z" fill="#1c1c1c" stroke="none" stroke-width="0" stroke-linejoin="round" /><circle cx="625.5" cy="860.9" r="20" fill="#88888a"/><text x="624.8" y="872.25" font-size="25" font-weight="bold" fill="#fff" text-anchor="middle">5.2</text>
<circle cx="62.5" cy="69" r="20.8" fill="#88888a"/><text x="66.6" y="83.05" font-size="25" font-weight="bold" fill="#fff" text-anchor="middle">1</text><circle cx="530.9" cy="68.5" r="20.8" fill="#88888a"/><text x="535" y="82.55" font-size="25" font-weight="bold" fill="#fff" text-anchor="middle">2</text><circle cx="58.9" cy="432.2" r="20.8" fill="#88888a"/><text x="63" y="446.25" font-size="25" font-weight="bold" fill="#fff" text-anchor="middle">3</text><circle cx="537.2" cy="424.1" r="20.8" fill="#88888a"/><text x="541.3" y="438.15" font-size="25" font-weight="bold" fill="#fff" text-anchor="middle">4</text><circle cx="269.3" cy="707.2" r="20.8" fill="#88888a"/><text x="273.4" y="721.25" font-size="25" font-weight="bold" fill="#fff" text-anchor="middle">5</text><path d="M301,103.3 L303.9,103.3 L303.9,131 L301,131 Z" fill="#1c1c1c" stroke="none" stroke-width="0" stroke-linejoin="round" /><path d="M295.6,133.4 L309.6,125.2 L302.1,144.3 Z" fill="#1c1c1c" stroke="none" stroke-width="0" stroke-linejoin="round" /><path d="M128.6,196.9 L131.5,196.9 L131.5,224.6 L128.6,224.6 Z" fill="#1c1c1c" stroke="none" stroke-width="0" stroke-linejoin="round" /><path d="M123.2,227 L137.2,218.8 L129.7,237.9 Z" fill="#1c1c1c" stroke="none" stroke-width="0" stroke-linejoin="round" /><path d="M137.6,530.2 L162.5,516.8" fill="none" stroke="#1c1c1c" stroke-width="2.4"  stroke-linejoin="round" stroke-linecap="butt"/><path d="M154.4,514.6 L172.3,511.5 L166.9,521.6 Z" fill="#1c1c1c" stroke="#1c1c1c" stroke-width="0.3" stroke-linejoin="round" /><path d="M274.7,450.2 L299.6,436.8" fill="none" stroke="#1c1c1c" stroke-width="2.4"  stroke-linejoin="round" stroke-linecap="butt"/><path d="M291.5,434.6 L309.4,431.5 L304,441.6 Z" fill="#1c1c1c" stroke="#1c1c1c" stroke-width="0.3" stroke-linejoin="round" /><path d="M811.8,130 L846,150.3" fill="none" stroke="#4a4a4a" stroke-width="1" stroke-dasharray="3.6 2.8"/><path d="M846.45,150.78 L853.83,154.88" fill="none" stroke="#262626" stroke-width="2.6" stroke-linecap="butt" stroke-linejoin="round"/><path d="M846.45,150.78 L853.83,154.88" fill="none" stroke="#fff" stroke-width="1" stroke-linecap="butt" stroke-linejoin="round"/><ellipse cx="855.35" cy="155.59" rx="2.0" ry="2.9" transform="rotate(-20 855.35 155.59)" fill="#222"/><ellipse cx="855.95" cy="155.89" rx="0.7" ry="1.2" transform="rotate(-20 855.35 155.59)" fill="#777"/><g transform="translate(888.2,173.6) rotate(28.8)"><path d="M-31.8,0 L0,0" stroke="#262626" stroke-width="1.9" fill="none"/><path d="M-28,0 L0,0" stroke="#fff" stroke-width="0.55" fill="none"/><path d="M-32.2,0 L-28.2,0" stroke="#1c1c1c" stroke-width="2.6" stroke-linecap="round" fill="none"/><path d="M0,-2.6 L1.4,-3.7 L4.4,-3.7 L5.4,-2.6 L5.4,2.6 L4.4,3.7 L1.4,3.7 L0,2.6 Z" fill="#fff" stroke="#1c1c1c" stroke-width="1.5" stroke-linejoin="round"/><path d="M2.6,-3.4 L2.6,3.4" stroke="#1c1c1c" stroke-width="0.9"/><path d="M5.4,-2.5 L9.6,-2.7 L9.6,2.7 L5.4,2.5 Z" fill="#fff" stroke="#1c1c1c" stroke-width="1.0"/><path d="M7.4,-2.6 L7.4,2.6" stroke="#1c1c1c" stroke-width="1.2"/><path d="M9.4,-2.8 C13,-3 17,-4.9 21,-5.0 L26.6,-4.9 L26.6,4.9 L21,5.0 C17,4.9 13,3 9.4,2.8 Z" fill="#1e1e1e" stroke="#1c1c1c" stroke-width="0.9"/><path d="M11.5,-1.4 C15,-1.8 19,-2.9 23.4,-3.0" stroke="#f0f0f0" stroke-width="1.2" fill="none"/><path d="M11.5,1.2 C15,1.5 19,2.4 23.4,2.5" stroke="#f0f0f0" stroke-width="1.2" fill="none"/><path d="M13,-0.1 L23.4,-0.2" stroke="#cfcfcf" stroke-width="0.8" fill="none"/><path d="M24.4,-4.6 L24.4,4.6" stroke="#f0f0f0" stroke-width="0.9" fill="none"/><path d="M26.8,-4.9 L33.2,-4.9 A2.7,4.9 0 0 1 33.2,4.9 L26.8,4.9 Z" fill="#fff" stroke="#1c1c1c" stroke-width="1.1"/><ellipse cx="33.2" cy="0" rx="2.7" ry="4.9" fill="#fff" stroke="#1c1c1c" stroke-width="1.0"/></g><path d="M921.21,200.59 L936.1,194.61 L934.93,208.44 Z" fill="#1c1c1c" stroke="none" stroke-width="0" stroke-linejoin="round" /><path d="M946.06,197.78 C949.57,203.28 946.06,211.49 938.68,214.65 C933.75,216.17 927.89,211.49 927.31,205.63 L933.75,205.63 C932.58,208.56 934.93,210.55 937.86,210.32 C943.13,209.14 945.47,203.87 944.65,200 Z" fill="#1c1c1c"/><path d="M627,523 L740.5,588" fill="none" stroke="#4a4a4a" stroke-width="1" stroke-dasharray="3.6 2.8"/><path d="M740.55,587.98 L747.93,592.08" fill="none" stroke="#262626" stroke-width="2.6" stroke-linecap="butt" stroke-linejoin="round"/><path d="M740.55,587.98 L747.93,592.08" fill="none" stroke="#fff" stroke-width="1" stroke-linecap="butt" stroke-linejoin="round"/><ellipse cx="749.45" cy="592.79" rx="2.0" ry="2.9" transform="rotate(-20 749.45 592.79)" fill="#222"/><ellipse cx="750.05" cy="593.09" rx="0.7" ry="1.2" transform="rotate(-20 749.45 592.79)" fill="#777"/><g transform="translate(782.3,610.8) rotate(28.8)"><path d="M-31.8,0 L0,0" stroke="#262626" stroke-width="1.9" fill="none"/><path d="M-28,0 L0,0" stroke="#fff" stroke-width="0.55" fill="none"/><path d="M-32.2,0 L-28.2,0" stroke="#1c1c1c" stroke-width="2.6" stroke-linecap="round" fill="none"/><path d="M0,-2.6 L1.4,-3.7 L4.4,-3.7 L5.4,-2.6 L5.4,2.6 L4.4,3.7 L1.4,3.7 L0,2.6 Z" fill="#fff" stroke="#1c1c1c" stroke-width="1.5" stroke-linejoin="round"/><path d="M2.6,-3.4 L2.6,3.4" stroke="#1c1c1c" stroke-width="0.9"/><path d="M5.4,-2.5 L9.6,-2.7 L9.6,2.7 L5.4,2.5 Z" fill="#fff" stroke="#1c1c1c" stroke-width="1.0"/><path d="M7.4,-2.6 L7.4,2.6" stroke="#1c1c1c" stroke-width="1.2"/><path d="M9.4,-2.8 C13,-3 17,-4.9 21,-5.0 L26.6,-4.9 L26.6,4.9 L21,5.0 C17,4.9 13,3 9.4,2.8 Z" fill="#1e1e1e" stroke="#1c1c1c" stroke-width="0.9"/><path d="M11.5,-1.4 C15,-1.8 19,-2.9 23.4,-3.0" stroke="#f0f0f0" stroke-width="1.2" fill="none"/><path d="M11.5,1.2 C15,1.5 19,2.4 23.4,2.5" stroke="#f0f0f0" stroke-width="1.2" fill="none"/><path d="M13,-0.1 L23.4,-0.2" stroke="#cfcfcf" stroke-width="0.8" fill="none"/><path d="M24.4,-4.6 L24.4,4.6" stroke="#f0f0f0" stroke-width="0.9" fill="none"/><path d="M26.8,-4.9 L33.2,-4.9 A2.7,4.9 0 0 1 33.2,4.9 L26.8,4.9 Z" fill="#fff" stroke="#1c1c1c" stroke-width="1.1"/><ellipse cx="33.2" cy="0" rx="2.7" ry="4.9" fill="#fff" stroke="#1c1c1c" stroke-width="1.0"/></g><path d="M815.31,637.79 L830.2,631.81 L829.03,645.64 Z" fill="#1c1c1c" stroke="none" stroke-width="0" stroke-linejoin="round" /><path d="M840.16,634.98 C843.67,640.48 840.16,648.69 832.78,651.85 C827.85,653.37 821.99,648.69 821.41,642.83 L827.85,642.83 C826.68,645.76 829.03,647.75 831.96,647.52 C837.23,646.34 839.57,641.07 838.75,637.2 Z" fill="#1c1c1c"/>
</svg>
</body></html>
